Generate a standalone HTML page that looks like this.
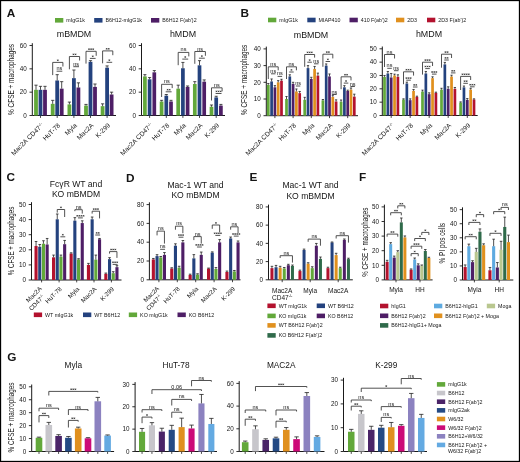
<!DOCTYPE html>
<html><head><meta charset="utf-8"><style>
html,body{margin:0;padding:0;background:#fff;width:520px;height:462px;overflow:hidden}
svg text{font-family:"Liberation Sans", sans-serif}
svg{will-change:transform}
</style></head><body>
<svg width="520" height="462" viewBox="0 0 520 462" font-family='"Liberation Sans", sans-serif' style="display:block">
<rect x="0" y="0" width="520" height="462" fill="#fff"/>
<text x="6.8" y="16.6" font-size="11.8" text-anchor="start" font-weight="bold" fill="#151515" >A</text>
<text x="240.6" y="16.6" font-size="11.8" text-anchor="start" font-weight="bold" fill="#151515" >B</text>
<text x="6.6" y="181" font-size="11.8" text-anchor="start" font-weight="bold" fill="#151515" >C</text>
<text x="126" y="181.5" font-size="11.8" text-anchor="start" font-weight="bold" fill="#151515" >D</text>
<text x="249.5" y="181.3" font-size="11.8" text-anchor="start" font-weight="bold" fill="#151515" >E</text>
<text x="359" y="181" font-size="11.8" text-anchor="start" font-weight="bold" fill="#151515" >F</text>
<text x="7.2" y="360.5" font-size="11.8" text-anchor="start" font-weight="bold" fill="#151515" >G</text>
<rect x="55" y="18" width="8.3" height="4.6" fill="#62a83a"/>
<text x="66.3" y="22.21" font-size="5.3" text-anchor="start" font-weight="normal" fill="#151515" >mIgG1k</text>
<rect x="94.2" y="18" width="8.3" height="4.6" fill="#24427e"/>
<text x="105.5" y="22.21" font-size="5.3" text-anchor="start" font-weight="normal" fill="#151515" >B6H12-mIgG1k</text>
<rect x="151" y="18" width="8.3" height="4.6" fill="#4e1e66"/>
<text x="162.3" y="22.21" font-size="5.3" text-anchor="start" font-weight="normal" fill="#151515" >B6H12 F(ab')2</text>
<text x="74" y="37" font-size="8.9" text-anchor="middle" font-weight="normal" fill="#151515" >mBMDM</text>
<text x="183" y="37" font-size="8.9" text-anchor="middle" font-weight="normal" fill="#151515" >hMDM</text>
<text transform="translate(14.2 79.4) rotate(-90)" font-size="8.2" text-anchor="middle" fill="#151515" textLength="71" lengthAdjust="spacingAndGlyphs">% CFSE + macrophages</text>
<path d="M32.3 43.2V115.5H116" fill="none" stroke="#1a1a1a" stroke-width="1"/>
<path d="M29.5 115.5H32.3" stroke="#1a1a1a" stroke-width="0.9"/>
<text x="26.8" y="117.77" font-size="6.3" text-anchor="end" font-weight="normal" fill="#151515" >0</text>
<path d="M29.5 92.17H32.3" stroke="#1a1a1a" stroke-width="0.9"/>
<text x="26.8" y="94.43" font-size="6.3" text-anchor="end" font-weight="normal" fill="#151515" >20</text>
<path d="M29.5 68.83H32.3" stroke="#1a1a1a" stroke-width="0.9"/>
<text x="26.8" y="71.1" font-size="6.3" text-anchor="end" font-weight="normal" fill="#151515" >40</text>
<path d="M29.5 45.5H32.3" stroke="#1a1a1a" stroke-width="0.9"/>
<text x="26.8" y="47.77" font-size="6.3" text-anchor="end" font-weight="normal" fill="#151515" >60</text>
<path d="M40.5 115.5V117.9" stroke="#1a1a1a" stroke-width="0.8"/>
<path d="M57.2 115.5V117.9" stroke="#1a1a1a" stroke-width="0.8"/>
<path d="M73.9 115.5V117.9" stroke="#1a1a1a" stroke-width="0.8"/>
<path d="M90.5 115.5V117.9" stroke="#1a1a1a" stroke-width="0.8"/>
<path d="M107.1 115.5V117.9" stroke="#1a1a1a" stroke-width="0.8"/>
<rect x="34.1" y="89.83" width="3.8" height="25.67" fill="#62a83a"/>
<path d="M36 89.83V85.17M34.4 85.17H37.6" stroke="#222" stroke-width="0.8" fill="none"/>
<rect x="38.6" y="89.83" width="3.8" height="25.67" fill="#24427e"/>
<path d="M40.5 89.83V86.33M38.9 86.33H42.1" stroke="#222" stroke-width="0.8" fill="none"/>
<rect x="43.1" y="89.83" width="3.8" height="25.67" fill="#4e1e66"/>
<path d="M45 89.83V86.33M43.4 86.33H46.6" stroke="#222" stroke-width="0.8" fill="none"/>
<rect x="50.8" y="103.83" width="3.8" height="11.67" fill="#62a83a"/>
<path d="M52.7 103.83V100.33M51.1 100.33H54.3" stroke="#222" stroke-width="0.8" fill="none"/>
<rect x="55.3" y="80.5" width="3.8" height="35" fill="#24427e"/>
<path d="M57.2 80.5V74.67M55.6 74.67H58.8" stroke="#222" stroke-width="0.8" fill="none"/>
<rect x="59.8" y="88.67" width="3.8" height="26.83" fill="#4e1e66"/>
<path d="M61.7 88.67V81.67M60.1 81.67H63.3" stroke="#222" stroke-width="0.8" fill="none"/>
<rect x="67.5" y="104.42" width="3.8" height="11.08" fill="#62a83a"/>
<path d="M69.4 104.42V102.08M67.8 102.08H71" stroke="#222" stroke-width="0.8" fill="none"/>
<rect x="72" y="78.17" width="3.8" height="37.33" fill="#24427e"/>
<path d="M73.9 78.17V70M72.3 70H75.5" stroke="#222" stroke-width="0.8" fill="none"/>
<rect x="76.5" y="87.5" width="3.8" height="28" fill="#4e1e66"/>
<path d="M78.4 87.5V82.83M76.8 82.83H80" stroke="#222" stroke-width="0.8" fill="none"/>
<rect x="84.1" y="105.58" width="3.8" height="9.92" fill="#62a83a"/>
<path d="M86 105.58V104.42M84.4 104.42H87.6" stroke="#222" stroke-width="0.8" fill="none"/>
<rect x="88.6" y="61.83" width="3.8" height="53.67" fill="#24427e"/>
<path d="M90.5 61.83V60.67M88.9 60.67H92.1" stroke="#222" stroke-width="0.8" fill="none"/>
<rect x="93.1" y="86.92" width="3.8" height="28.58" fill="#4e1e66"/>
<path d="M95 86.92V84M93.4 84H96.6" stroke="#222" stroke-width="0.8" fill="none"/>
<rect x="100.7" y="106.17" width="3.8" height="9.33" fill="#62a83a"/>
<path d="M102.6 106.17V103.83M101 103.83H104.2" stroke="#222" stroke-width="0.8" fill="none"/>
<rect x="105.2" y="67.67" width="3.8" height="47.83" fill="#24427e"/>
<path d="M107.1 67.67V65.92M105.5 65.92H108.7" stroke="#222" stroke-width="0.8" fill="none"/>
<rect x="109.7" y="94.5" width="3.8" height="21" fill="#4e1e66"/>
<path d="M111.6 94.5V92.17M110 92.17H113.2" stroke="#222" stroke-width="0.8" fill="none"/>
<path d="M52.7 75.1V62.4H62.9V66.5" fill="none" stroke="#333" stroke-width="0.85"/>
<path d="M56.95 60.3H58.65M57.35 59.55L58.25 61.05M58.25 59.55L57.35 61.05" stroke="#2a2a2a" stroke-width="0.55" fill="none"/>
<path d="M56.6 71.2H62.3" fill="none" stroke="#333" stroke-width="0.85"/>
<text x="59.45" y="70.2" font-size="5.5" text-anchor="middle" fill="#151515">ns</text>
<path d="M69.4 69.3V56.5H79.6V60.5" fill="none" stroke="#333" stroke-width="0.85"/>
<path d="M72.6 54.4H74.3M73 53.65L73.9 55.15M73.9 53.65L73 55.15M74.7 54.4H76.4M75.1 53.65L76 55.15M76 53.65L75.1 55.15" stroke="#2a2a2a" stroke-width="0.55" fill="none"/>
<path d="M73.3 66.7H79" fill="none" stroke="#333" stroke-width="0.85"/>
<text x="76.15" y="65.7" font-size="5.5" text-anchor="middle" fill="#151515">ns</text>
<path d="M86 63.6V51.3H96.2V55.8" fill="none" stroke="#333" stroke-width="0.85"/>
<path d="M88.15 49.2H89.85M88.55 48.45L89.45 49.95M89.45 48.45L88.55 49.95M90.25 49.2H91.95M90.65 48.45L91.55 49.95M91.55 48.45L90.65 49.95M92.35 49.2H94.05M92.75 48.45L93.65 49.95M93.65 48.45L92.75 49.95" stroke="#2a2a2a" stroke-width="0.55" fill="none"/>
<path d="M89.9 58.4H95.6" fill="none" stroke="#333" stroke-width="0.85"/>
<path d="M91.9 56.3H93.6M92.3 55.55L93.2 57.05M93.2 55.55L92.3 57.05" stroke="#2a2a2a" stroke-width="0.55" fill="none"/>
<path d="M102.6 63.3V50.9H112.8V55.2" fill="none" stroke="#333" stroke-width="0.85"/>
<path d="M105.8 48.8H107.5M106.2 48.05L107.1 49.55M107.1 48.05L106.2 49.55M107.9 48.8H109.6M108.3 48.05L109.2 49.55M109.2 48.05L108.3 49.55" stroke="#2a2a2a" stroke-width="0.55" fill="none"/>
<path d="M106.5 62.3H112.2" fill="none" stroke="#333" stroke-width="0.85"/>
<path d="M108.5 60.2H110.2M108.9 59.45L109.8 60.95M109.8 59.45L108.9 60.95" stroke="#2a2a2a" stroke-width="0.55" fill="none"/>
<text transform="translate(44 125.8) rotate(-45)" font-size="6.6" text-anchor="end" fill="#151515">Mac2A CD47<tspan font-size="3.9599999999999995" dy="-2.4">-/-</tspan></text>
<text transform="translate(60.7 125.8) rotate(-45)" font-size="6.6" text-anchor="end" fill="#151515">HuT-78</text>
<text transform="translate(77.4 125.8) rotate(-45)" font-size="6.6" text-anchor="end" fill="#151515">Myla</text>
<text transform="translate(94 125.8) rotate(-45)" font-size="6.6" text-anchor="end" fill="#151515">Mac2A</text>
<text transform="translate(110.6 125.8) rotate(-45)" font-size="6.6" text-anchor="end" fill="#151515">K-299</text>
<path d="M141.5 43.2V115.5H225" fill="none" stroke="#1a1a1a" stroke-width="1"/>
<path d="M138.7 115.5H141.5" stroke="#1a1a1a" stroke-width="0.9"/>
<text x="136" y="117.77" font-size="6.3" text-anchor="end" font-weight="normal" fill="#151515" >0</text>
<path d="M138.7 92.17H141.5" stroke="#1a1a1a" stroke-width="0.9"/>
<text x="136" y="94.43" font-size="6.3" text-anchor="end" font-weight="normal" fill="#151515" >20</text>
<path d="M138.7 68.83H141.5" stroke="#1a1a1a" stroke-width="0.9"/>
<text x="136" y="71.1" font-size="6.3" text-anchor="end" font-weight="normal" fill="#151515" >40</text>
<path d="M138.7 45.5H141.5" stroke="#1a1a1a" stroke-width="0.9"/>
<text x="136" y="47.77" font-size="6.3" text-anchor="end" font-weight="normal" fill="#151515" >60</text>
<path d="M149.6 115.5V117.9" stroke="#1a1a1a" stroke-width="0.8"/>
<path d="M166.3 115.5V117.9" stroke="#1a1a1a" stroke-width="0.8"/>
<path d="M182.9 115.5V117.9" stroke="#1a1a1a" stroke-width="0.8"/>
<path d="M199.5 115.5V117.9" stroke="#1a1a1a" stroke-width="0.8"/>
<path d="M216.2 115.5V117.9" stroke="#1a1a1a" stroke-width="0.8"/>
<rect x="143.05" y="76.42" width="3.7" height="39.08" fill="#62a83a"/>
<path d="M144.9 76.42V74.67M143.35 74.67H146.45" stroke="#222" stroke-width="0.8" fill="none"/>
<rect x="147.75" y="79.33" width="3.7" height="36.17" fill="#24427e"/>
<path d="M149.6 79.33V77.58M148.05 77.58H151.15" stroke="#222" stroke-width="0.8" fill="none"/>
<rect x="152.45" y="72.33" width="3.7" height="43.17" fill="#4e1e66"/>
<path d="M154.3 72.33V70.58M152.75 70.58H155.85" stroke="#222" stroke-width="0.8" fill="none"/>
<rect x="159.75" y="101.5" width="3.7" height="14" fill="#62a83a"/>
<path d="M161.6 101.5V100.33M160.05 100.33H163.15" stroke="#222" stroke-width="0.8" fill="none"/>
<rect x="164.45" y="95.67" width="3.7" height="19.83" fill="#24427e"/>
<path d="M166.3 95.67V94.5M164.75 94.5H167.85" stroke="#222" stroke-width="0.8" fill="none"/>
<rect x="169.15" y="101.5" width="3.7" height="14" fill="#4e1e66"/>
<path d="M171 101.5V100.33M169.45 100.33H172.55" stroke="#222" stroke-width="0.8" fill="none"/>
<rect x="176.35" y="88.67" width="3.7" height="26.83" fill="#62a83a"/>
<path d="M178.2 88.67V85.17M176.65 85.17H179.75" stroke="#222" stroke-width="0.8" fill="none"/>
<rect x="181.05" y="68.25" width="3.7" height="47.25" fill="#24427e"/>
<path d="M182.9 68.25V62.42M181.35 62.42H184.45" stroke="#222" stroke-width="0.8" fill="none"/>
<rect x="185.75" y="86.92" width="3.7" height="28.58" fill="#4e1e66"/>
<path d="M187.6 86.92V85.98M186.05 85.98H189.15" stroke="#222" stroke-width="0.8" fill="none"/>
<rect x="192.95" y="84" width="3.7" height="31.5" fill="#62a83a"/>
<path d="M194.8 84V81.67M193.25 81.67H196.35" stroke="#222" stroke-width="0.8" fill="none"/>
<rect x="197.65" y="65.33" width="3.7" height="50.17" fill="#24427e"/>
<path d="M199.5 65.33V60.67M197.95 60.67H201.05" stroke="#222" stroke-width="0.8" fill="none"/>
<rect x="202.35" y="81.67" width="3.7" height="33.83" fill="#4e1e66"/>
<path d="M204.2 81.67V79.92M202.65 79.92H205.75" stroke="#222" stroke-width="0.8" fill="none"/>
<rect x="209.65" y="106.75" width="3.7" height="8.75" fill="#62a83a"/>
<path d="M211.5 106.75V105M209.95 105H213.05" stroke="#222" stroke-width="0.8" fill="none"/>
<rect x="214.35" y="97.42" width="3.7" height="18.08" fill="#24427e"/>
<path d="M216.2 97.42V96.25M214.65 96.25H217.75" stroke="#222" stroke-width="0.8" fill="none"/>
<rect x="219.05" y="105.58" width="3.7" height="9.92" fill="#4e1e66"/>
<path d="M220.9 105.58V104.42M219.35 104.42H222.45" stroke="#222" stroke-width="0.8" fill="none"/>
<path d="M161.6 97V84.3H172.2V88.1" fill="none" stroke="#333" stroke-width="0.85"/>
<text x="166.9" y="83.3" font-size="5.5" text-anchor="middle" fill="#151515">ns</text>
<path d="M165.7 91.8H171.6" fill="none" stroke="#333" stroke-width="0.85"/>
<path d="M166.75 89.7H168.45M167.15 88.95L168.05 90.45M168.05 88.95L167.15 90.45M168.85 89.7H170.55M169.25 88.95L170.15 90.45M170.15 88.95L169.25 90.45" stroke="#2a2a2a" stroke-width="0.55" fill="none"/>
<path d="M178.2 65.2V52.4H188.8V56.4" fill="none" stroke="#333" stroke-width="0.85"/>
<text x="183.5" y="51.4" font-size="5.5" text-anchor="middle" fill="#151515">ns</text>
<path d="M182.3 59.1H188.2" fill="none" stroke="#333" stroke-width="0.85"/>
<path d="M184.4 57H186.1M184.8 56.25L185.7 57.75M185.7 56.25L184.8 57.75" stroke="#2a2a2a" stroke-width="0.55" fill="none"/>
<path d="M194.8 63.8V51.5H205.4V55.8" fill="none" stroke="#333" stroke-width="0.85"/>
<text x="200.1" y="50.5" font-size="5.5" text-anchor="middle" fill="#151515">ns</text>
<path d="M198.9 58.2H204.8" fill="none" stroke="#333" stroke-width="0.85"/>
<path d="M201 56.1H202.7M201.4 55.35L202.3 56.85M202.3 55.35L201.4 56.85" stroke="#2a2a2a" stroke-width="0.55" fill="none"/>
<path d="M211.5 100.5V87.8H222.1V91.4" fill="none" stroke="#333" stroke-width="0.85"/>
<text x="216.8" y="86.8" font-size="5.5" text-anchor="middle" fill="#151515">ns</text>
<path d="M215.6 93.5H221.5" fill="none" stroke="#333" stroke-width="0.85"/>
<path d="M215.6 91.4H217.3M216 90.65L216.9 92.15M216.9 90.65L216 92.15M217.7 91.4H219.4M218.1 90.65L219 92.15M219 90.65L218.1 92.15M219.8 91.4H221.5M220.2 90.65L221.1 92.15M221.1 90.65L220.2 92.15" stroke="#2a2a2a" stroke-width="0.55" fill="none"/>
<text transform="translate(153.1 125.8) rotate(-45)" font-size="6.6" text-anchor="end" fill="#151515">Mac2A CD47<tspan font-size="3.9599999999999995" dy="-2.4">-/-</tspan></text>
<text transform="translate(169.8 125.8) rotate(-45)" font-size="6.6" text-anchor="end" fill="#151515">HuT-78</text>
<text transform="translate(186.4 125.8) rotate(-45)" font-size="6.6" text-anchor="end" fill="#151515">Myla</text>
<text transform="translate(203 125.8) rotate(-45)" font-size="6.6" text-anchor="end" fill="#151515">Mac2A</text>
<text transform="translate(219.7 125.8) rotate(-45)" font-size="6.6" text-anchor="end" fill="#151515">K-299</text>
<rect x="268" y="17.7" width="8.3" height="4.6" fill="#62a83a"/>
<text x="279.3" y="21.91" font-size="5.3" text-anchor="start" font-weight="normal" fill="#151515" >mIgG1k</text>
<rect x="307.3" y="17.7" width="8.3" height="4.6" fill="#24427e"/>
<text x="318.6" y="21.91" font-size="5.3" text-anchor="start" font-weight="normal" fill="#151515" >MIAP410</text>
<rect x="349.5" y="17.7" width="8.3" height="4.6" fill="#4e1e66"/>
<text x="360.8" y="21.91" font-size="5.3" text-anchor="start" font-weight="normal" fill="#151515" >410 F(ab')2</text>
<rect x="396" y="17.7" width="8.3" height="4.6" fill="#e0901e"/>
<text x="407.3" y="21.91" font-size="5.3" text-anchor="start" font-weight="normal" fill="#151515" >2D3</text>
<rect x="427" y="17.7" width="8.3" height="4.6" fill="#b3122e"/>
<text x="438.3" y="21.91" font-size="5.3" text-anchor="start" font-weight="normal" fill="#151515" >2D3 F(ab')2</text>
<text x="311" y="37.5" font-size="8.9" text-anchor="middle" font-weight="normal" fill="#151515" >mBMDM</text>
<text x="429" y="37.3" font-size="8.9" text-anchor="middle" font-weight="normal" fill="#151515" >hMDM</text>
<text transform="translate(247.3 79.8) rotate(-90)" font-size="8.2" text-anchor="middle" fill="#151515" textLength="70.2" lengthAdjust="spacingAndGlyphs">% CFSE + macrophages</text>
<path d="M266.3 46.6V115.7H358" fill="none" stroke="#1a1a1a" stroke-width="1"/>
<path d="M263.5 115.7H266.3" stroke="#1a1a1a" stroke-width="0.9"/>
<text x="260.8" y="117.97" font-size="6.3" text-anchor="end" font-weight="normal" fill="#151515" >0</text>
<path d="M263.5 99H266.3" stroke="#1a1a1a" stroke-width="0.9"/>
<text x="260.8" y="101.27" font-size="6.3" text-anchor="end" font-weight="normal" fill="#151515" >10</text>
<path d="M263.5 82.3H266.3" stroke="#1a1a1a" stroke-width="0.9"/>
<text x="260.8" y="84.57" font-size="6.3" text-anchor="end" font-weight="normal" fill="#151515" >20</text>
<path d="M263.5 65.6H266.3" stroke="#1a1a1a" stroke-width="0.9"/>
<text x="260.8" y="67.87" font-size="6.3" text-anchor="end" font-weight="normal" fill="#151515" >30</text>
<path d="M263.5 48.9H266.3" stroke="#1a1a1a" stroke-width="0.9"/>
<text x="260.8" y="51.17" font-size="6.3" text-anchor="end" font-weight="normal" fill="#151515" >40</text>
<path d="M274.9 115.7V118.1" stroke="#1a1a1a" stroke-width="0.8"/>
<path d="M293.1 115.7V118.1" stroke="#1a1a1a" stroke-width="0.8"/>
<path d="M311.3 115.7V118.1" stroke="#1a1a1a" stroke-width="0.8"/>
<path d="M329.5 115.7V118.1" stroke="#1a1a1a" stroke-width="0.8"/>
<path d="M347.7 115.7V118.1" stroke="#1a1a1a" stroke-width="0.8"/>
<rect x="266.95" y="84.81" width="2.7" height="30.89" fill="#62a83a"/>
<path d="M268.3 84.81V83.47M267.17 83.47H269.43" stroke="#222" stroke-width="0.8" fill="none"/>
<rect x="270.25" y="81.47" width="2.7" height="34.23" fill="#24427e"/>
<path d="M271.6 81.47V78.96M270.47 78.96H272.73" stroke="#222" stroke-width="0.8" fill="none"/>
<rect x="273.55" y="87.31" width="2.7" height="28.39" fill="#4e1e66"/>
<path d="M274.9 87.31V85.64M273.77 85.64H276.03" stroke="#222" stroke-width="0.8" fill="none"/>
<rect x="276.85" y="82.3" width="2.7" height="33.4" fill="#e0901e"/>
<path d="M278.2 82.3V80.63M277.07 80.63H279.33" stroke="#222" stroke-width="0.8" fill="none"/>
<rect x="280.15" y="80.63" width="2.7" height="35.07" fill="#b3122e"/>
<path d="M281.5 80.63V79.29M280.37 79.29H282.63" stroke="#222" stroke-width="0.8" fill="none"/>
<rect x="285.15" y="99" width="2.7" height="16.7" fill="#62a83a"/>
<path d="M286.5 99V96.5M285.37 96.5H287.63" stroke="#222" stroke-width="0.8" fill="none"/>
<rect x="288.45" y="76.46" width="2.7" height="39.24" fill="#24427e"/>
<path d="M289.8 76.46V74.78M288.67 74.78H290.93" stroke="#222" stroke-width="0.8" fill="none"/>
<rect x="291.75" y="83.97" width="2.7" height="31.73" fill="#4e1e66"/>
<path d="M293.1 83.97V82.3M291.97 82.3H294.23" stroke="#222" stroke-width="0.8" fill="none"/>
<rect x="295.05" y="91.48" width="2.7" height="24.21" fill="#e0901e"/>
<path d="M296.4 91.48V88.98M295.27 88.98H297.53" stroke="#222" stroke-width="0.8" fill="none"/>
<rect x="298.35" y="93.16" width="2.7" height="22.54" fill="#b3122e"/>
<path d="M299.7 93.16V91.48M298.57 91.48H300.83" stroke="#222" stroke-width="0.8" fill="none"/>
<rect x="303.35" y="99.84" width="2.7" height="15.86" fill="#62a83a"/>
<path d="M304.7 99.84V97.33M303.57 97.33H305.83" stroke="#222" stroke-width="0.8" fill="none"/>
<rect x="306.65" y="68.11" width="2.7" height="47.59" fill="#24427e"/>
<path d="M308 68.11V65.6M306.87 65.6H309.13" stroke="#222" stroke-width="0.8" fill="none"/>
<rect x="309.95" y="78.96" width="2.7" height="36.74" fill="#4e1e66"/>
<path d="M311.3 78.96V77.29M310.17 77.29H312.43" stroke="#222" stroke-width="0.8" fill="none"/>
<rect x="313.25" y="68.94" width="2.7" height="46.76" fill="#e0901e"/>
<path d="M314.6 68.94V66.44M313.47 66.44H315.73" stroke="#222" stroke-width="0.8" fill="none"/>
<rect x="316.55" y="75.62" width="2.7" height="40.08" fill="#b3122e"/>
<path d="M317.9 75.62V73.12M316.77 73.12H319.03" stroke="#222" stroke-width="0.8" fill="none"/>
<rect x="321.55" y="100.34" width="2.7" height="15.36" fill="#62a83a"/>
<path d="M322.9 100.34V99.5M321.77 99.5H324.03" stroke="#222" stroke-width="0.8" fill="none"/>
<rect x="324.85" y="65.6" width="2.7" height="50.1" fill="#24427e"/>
<path d="M326.2 65.6V63.93M325.07 63.93H327.33" stroke="#222" stroke-width="0.8" fill="none"/>
<rect x="328.15" y="76.46" width="2.7" height="39.24" fill="#4e1e66"/>
<path d="M329.5 76.46V73.95M328.37 73.95H330.63" stroke="#222" stroke-width="0.8" fill="none"/>
<rect x="331.45" y="96.83" width="2.7" height="18.87" fill="#e0901e"/>
<path d="M332.8 96.83V95.16M331.67 95.16H333.93" stroke="#222" stroke-width="0.8" fill="none"/>
<rect x="334.75" y="101.5" width="2.7" height="14.2" fill="#b3122e"/>
<path d="M336.1 101.5V99.84M334.97 99.84H337.23" stroke="#222" stroke-width="0.8" fill="none"/>
<rect x="339.75" y="101.67" width="2.7" height="14.03" fill="#62a83a"/>
<path d="M341.1 101.67V100M339.97 100H342.23" stroke="#222" stroke-width="0.8" fill="none"/>
<rect x="343.05" y="87.31" width="2.7" height="28.39" fill="#24427e"/>
<path d="M344.4 87.31V85.64M343.27 85.64H345.53" stroke="#222" stroke-width="0.8" fill="none"/>
<rect x="346.35" y="90.98" width="2.7" height="24.72" fill="#4e1e66"/>
<path d="M347.7 90.98V90.15M346.57 90.15H348.83" stroke="#222" stroke-width="0.8" fill="none"/>
<rect x="349.65" y="89.65" width="2.7" height="26.05" fill="#e0901e"/>
<path d="M351 89.65V87.98M349.87 87.98H352.13" stroke="#222" stroke-width="0.8" fill="none"/>
<rect x="352.95" y="96.66" width="2.7" height="19.04" fill="#b3122e"/>
<path d="M354.3 96.66V94.16M353.17 94.16H355.43" stroke="#222" stroke-width="0.8" fill="none"/>
<path d="M268.3 79V66.8H278.2V70.3" fill="none" stroke="#333" stroke-width="0.85"/>
<text x="273.25" y="65.8" font-size="5.5" text-anchor="middle" fill="#151515">ns</text>
<path d="M271 73.8H275.5" fill="none" stroke="#333" stroke-width="0.85"/>
<text x="273.25" y="72.8" font-size="5.5" text-anchor="middle" fill="#151515">ns</text>
<path d="M277.6 76.4H282.1" fill="none" stroke="#333" stroke-width="0.85"/>
<text x="279.85" y="75.4" font-size="5.5" text-anchor="middle" fill="#151515">ns</text>
<path d="M286.5 79V66.8H296.4V70.3" fill="none" stroke="#333" stroke-width="0.85"/>
<text x="291.45" y="65.8" font-size="5.5" text-anchor="middle" fill="#151515">ns</text>
<path d="M289.2 72H293.7" fill="none" stroke="#333" stroke-width="0.85"/>
<path d="M290.6 69.9H292.3M291 69.15L291.9 70.65M291.9 69.15L291 70.65" stroke="#2a2a2a" stroke-width="0.55" fill="none"/>
<path d="M295.8 86H300.3" fill="none" stroke="#333" stroke-width="0.85"/>
<text x="298.05" y="85" font-size="5.5" text-anchor="middle" fill="#151515">ns</text>
<path d="M304.7 66.8V54.5H314.6V57.6" fill="none" stroke="#333" stroke-width="0.85"/>
<path d="M306.7 52.4H308.4M307.1 51.65L308 53.15M308 51.65L307.1 53.15M308.8 52.4H310.5M309.2 51.65L310.1 53.15M310.1 51.65L309.2 53.15M310.9 52.4H312.6M311.3 51.65L312.2 53.15M312.2 51.65L311.3 53.15" stroke="#2a2a2a" stroke-width="0.55" fill="none"/>
<path d="M307.4 62.2H311.9" fill="none" stroke="#333" stroke-width="0.85"/>
<path d="M308.8 60.1H310.5M309.2 59.35L310.1 60.85M310.1 59.35L309.2 60.85" stroke="#2a2a2a" stroke-width="0.55" fill="none"/>
<path d="M314 63.8H318.5" fill="none" stroke="#333" stroke-width="0.85"/>
<text x="316.25" y="62.8" font-size="5.5" text-anchor="middle" fill="#151515">ns</text>
<path d="M322.9 66.8V54.2H332.8V58.4" fill="none" stroke="#333" stroke-width="0.85"/>
<path d="M325.95 52.1H327.65M326.35 51.35L327.25 52.85M327.25 51.35L326.35 52.85M328.05 52.1H329.75M328.45 51.35L329.35 52.85M329.35 51.35L328.45 52.85" stroke="#2a2a2a" stroke-width="0.55" fill="none"/>
<path d="M325.6 61.5H330.1" fill="none" stroke="#333" stroke-width="0.85"/>
<path d="M327 59.4H328.7M327.4 58.65L328.3 60.15M328.3 58.65L327.4 60.15" stroke="#2a2a2a" stroke-width="0.55" fill="none"/>
<path d="M332.2 94.5H336.7" fill="none" stroke="#333" stroke-width="0.85"/>
<text x="334.45" y="93.5" font-size="5.5" text-anchor="middle" fill="#151515">ns</text>
<path d="M341.1 89.2V76.8H351V80.4" fill="none" stroke="#333" stroke-width="0.85"/>
<path d="M344.15 74.7H345.85M344.55 73.95L345.45 75.45M345.45 73.95L344.55 75.45M346.25 74.7H347.95M346.65 73.95L347.55 75.45M347.55 73.95L346.65 75.45" stroke="#2a2a2a" stroke-width="0.55" fill="none"/>
<path d="M343.8 83.1H348.3" fill="none" stroke="#333" stroke-width="0.85"/>
<path d="M345.2 81H346.9M345.6 80.25L346.5 81.75M346.5 80.25L345.6 81.75" stroke="#2a2a2a" stroke-width="0.55" fill="none"/>
<path d="M350.4 86.5H354.9" fill="none" stroke="#333" stroke-width="0.85"/>
<text x="352.65" y="85.5" font-size="5.5" text-anchor="middle" fill="#151515">ns</text>
<text transform="translate(278.4 126) rotate(-45)" font-size="6.6" text-anchor="end" fill="#151515">Mac2A CD47<tspan font-size="3.9599999999999995" dy="-2.4">-/-</tspan></text>
<text transform="translate(296.6 126) rotate(-45)" font-size="6.6" text-anchor="end" fill="#151515">HuT-78</text>
<text transform="translate(314.8 126) rotate(-45)" font-size="6.6" text-anchor="end" fill="#151515">Myla</text>
<text transform="translate(333 126) rotate(-45)" font-size="6.6" text-anchor="end" fill="#151515">Mac2A</text>
<text transform="translate(351.2 126) rotate(-45)" font-size="6.6" text-anchor="end" fill="#151515">K-299</text>
<path d="M382.3 46.5V115.5H477.7" fill="none" stroke="#1a1a1a" stroke-width="1"/>
<path d="M379.5 115.5H382.3" stroke="#1a1a1a" stroke-width="0.9"/>
<text x="376.8" y="117.77" font-size="6.3" text-anchor="end" font-weight="normal" fill="#151515" >0</text>
<path d="M379.5 102.16H382.3" stroke="#1a1a1a" stroke-width="0.9"/>
<text x="376.8" y="104.43" font-size="6.3" text-anchor="end" font-weight="normal" fill="#151515" >10</text>
<path d="M379.5 88.82H382.3" stroke="#1a1a1a" stroke-width="0.9"/>
<text x="376.8" y="91.09" font-size="6.3" text-anchor="end" font-weight="normal" fill="#151515" >20</text>
<path d="M379.5 75.48H382.3" stroke="#1a1a1a" stroke-width="0.9"/>
<text x="376.8" y="77.75" font-size="6.3" text-anchor="end" font-weight="normal" fill="#151515" >30</text>
<path d="M379.5 62.14H382.3" stroke="#1a1a1a" stroke-width="0.9"/>
<text x="376.8" y="64.41" font-size="6.3" text-anchor="end" font-weight="normal" fill="#151515" >40</text>
<path d="M379.5 48.8H382.3" stroke="#1a1a1a" stroke-width="0.9"/>
<text x="376.8" y="51.07" font-size="6.3" text-anchor="end" font-weight="normal" fill="#151515" >50</text>
<path d="M391.2 115.5V117.9" stroke="#1a1a1a" stroke-width="0.8"/>
<path d="M410.2 115.5V117.9" stroke="#1a1a1a" stroke-width="0.8"/>
<path d="M429.2 115.5V117.9" stroke="#1a1a1a" stroke-width="0.8"/>
<path d="M448.2 115.5V117.9" stroke="#1a1a1a" stroke-width="0.8"/>
<path d="M467.3 115.5V117.9" stroke="#1a1a1a" stroke-width="0.8"/>
<rect x="383.15" y="76.81" width="2.7" height="38.69" fill="#62a83a"/>
<path d="M384.5 76.81V75.48M383.37 75.48H385.63" stroke="#222" stroke-width="0.8" fill="none"/>
<rect x="386.5" y="73.48" width="2.7" height="42.02" fill="#24427e"/>
<path d="M387.85 73.48V71.48M386.72 71.48H388.98" stroke="#222" stroke-width="0.8" fill="none"/>
<rect x="389.85" y="77.48" width="2.7" height="38.02" fill="#4e1e66"/>
<path d="M391.2 77.48V73.48M390.07 73.48H392.33" stroke="#222" stroke-width="0.8" fill="none"/>
<rect x="393.2" y="75.48" width="2.7" height="40.02" fill="#e0901e"/>
<path d="M394.55 75.48V74.15M393.42 74.15H395.68" stroke="#222" stroke-width="0.8" fill="none"/>
<rect x="396.55" y="76.81" width="2.7" height="38.69" fill="#b3122e"/>
<path d="M397.9 76.81V74.81M396.77 74.81H399.03" stroke="#222" stroke-width="0.8" fill="none"/>
<rect x="402.15" y="99.49" width="2.7" height="16.01" fill="#62a83a"/>
<path d="M403.5 99.49V98.83M402.37 98.83H404.63" stroke="#222" stroke-width="0.8" fill="none"/>
<rect x="405.5" y="83.48" width="2.7" height="32.02" fill="#24427e"/>
<path d="M406.85 83.48V82.15M405.72 82.15H407.98" stroke="#222" stroke-width="0.8" fill="none"/>
<rect x="408.85" y="100.16" width="2.7" height="15.34" fill="#4e1e66"/>
<path d="M410.2 100.16V98.83M409.07 98.83H411.33" stroke="#222" stroke-width="0.8" fill="none"/>
<rect x="412.2" y="90.82" width="2.7" height="24.68" fill="#e0901e"/>
<path d="M413.55 90.82V89.49M412.42 89.49H414.68" stroke="#222" stroke-width="0.8" fill="none"/>
<rect x="415.55" y="96.82" width="2.7" height="18.68" fill="#b3122e"/>
<path d="M416.9 96.82V96.16M415.77 96.16H418.03" stroke="#222" stroke-width="0.8" fill="none"/>
<rect x="421.15" y="91.49" width="2.7" height="24.01" fill="#62a83a"/>
<path d="M422.5 91.49V90.15M421.37 90.15H423.63" stroke="#222" stroke-width="0.8" fill="none"/>
<rect x="424.5" y="73.48" width="2.7" height="42.02" fill="#24427e"/>
<path d="M425.85 73.48V71.48M424.72 71.48H426.98" stroke="#222" stroke-width="0.8" fill="none"/>
<rect x="427.85" y="94.16" width="2.7" height="21.34" fill="#4e1e66"/>
<path d="M429.2 94.16V92.82M428.07 92.82H430.33" stroke="#222" stroke-width="0.8" fill="none"/>
<rect x="431.2" y="78.15" width="2.7" height="37.35" fill="#e0901e"/>
<path d="M432.55 78.15V76.81M431.42 76.81H433.68" stroke="#222" stroke-width="0.8" fill="none"/>
<rect x="434.55" y="92.82" width="2.7" height="22.68" fill="#b3122e"/>
<path d="M435.9 92.82V92.16M434.77 92.16H437.03" stroke="#222" stroke-width="0.8" fill="none"/>
<rect x="440.15" y="89.62" width="2.7" height="25.88" fill="#62a83a"/>
<path d="M441.5 89.62V88.29M440.37 88.29H442.63" stroke="#222" stroke-width="0.8" fill="none"/>
<rect x="443.5" y="64.41" width="2.7" height="51.09" fill="#24427e"/>
<path d="M444.85 64.41V62.41M443.72 62.41H445.98" stroke="#222" stroke-width="0.8" fill="none"/>
<rect x="446.85" y="88.82" width="2.7" height="26.68" fill="#4e1e66"/>
<path d="M448.2 88.82V86.82M447.07 86.82H449.33" stroke="#222" stroke-width="0.8" fill="none"/>
<rect x="450.2" y="76.55" width="2.7" height="38.95" fill="#e0901e"/>
<path d="M451.55 76.55V75.21M450.42 75.21H452.68" stroke="#222" stroke-width="0.8" fill="none"/>
<rect x="453.55" y="88.82" width="2.7" height="26.68" fill="#b3122e"/>
<path d="M454.9 88.82V87.49M453.77 87.49H456.03" stroke="#222" stroke-width="0.8" fill="none"/>
<rect x="459.25" y="102.56" width="2.7" height="12.94" fill="#62a83a"/>
<path d="M460.6 102.56V101.89M459.47 101.89H461.73" stroke="#222" stroke-width="0.8" fill="none"/>
<rect x="462.6" y="87.35" width="2.7" height="28.15" fill="#24427e"/>
<path d="M463.95 87.35V86.02M462.82 86.02H465.08" stroke="#222" stroke-width="0.8" fill="none"/>
<rect x="465.95" y="99.89" width="2.7" height="15.61" fill="#4e1e66"/>
<path d="M467.3 99.89V98.56M466.17 98.56H468.43" stroke="#222" stroke-width="0.8" fill="none"/>
<rect x="469.3" y="89.62" width="2.7" height="25.88" fill="#e0901e"/>
<path d="M470.65 89.62V88.29M469.52 88.29H471.78" stroke="#222" stroke-width="0.8" fill="none"/>
<rect x="472.65" y="99.49" width="2.7" height="16.01" fill="#b3122e"/>
<path d="M474 99.49V98.83M472.87 98.83H475.13" stroke="#222" stroke-width="0.8" fill="none"/>
<path d="M384.5 67V54.5H394.55V58.5" fill="none" stroke="#333" stroke-width="0.85"/>
<text x="389.52" y="53.5" font-size="5.5" text-anchor="middle" fill="#151515">ns</text>
<path d="M387.25 68.3H391.8" fill="none" stroke="#333" stroke-width="0.85"/>
<text x="389.52" y="67.3" font-size="5.5" text-anchor="middle" fill="#151515">ns</text>
<path d="M393.95 70.7H398.5" fill="none" stroke="#333" stroke-width="0.85"/>
<text x="396.23" y="69.7" font-size="5.5" text-anchor="middle" fill="#151515">ns</text>
<path d="M403.5 84.2V71.8H413.55V75.6" fill="none" stroke="#333" stroke-width="0.85"/>
<path d="M405.57 69.7H407.27M405.97 68.95L406.87 70.45M406.87 68.95L405.97 70.45M407.67 69.7H409.38M408.07 68.95L408.97 70.45M408.97 68.95L408.07 70.45M409.77 69.7H411.48M410.18 68.95L411.07 70.45M411.07 68.95L410.18 70.45" stroke="#2a2a2a" stroke-width="0.55" fill="none"/>
<path d="M406.25 80.2H410.8" fill="none" stroke="#333" stroke-width="0.85"/>
<path d="M405.57 78.1H407.27M405.97 77.35L406.87 78.85M406.87 77.35L405.97 78.85M407.67 78.1H409.38M408.07 77.35L408.97 78.85M408.97 77.35L408.07 78.85M409.77 78.1H411.48M410.18 77.35L411.07 78.85M411.07 77.35L410.18 78.85" stroke="#2a2a2a" stroke-width="0.55" fill="none"/>
<path d="M412.95 87H417.5" fill="none" stroke="#333" stroke-width="0.85"/>
<path d="M413.32 84.9H415.03M413.73 84.15L414.62 85.65M414.62 84.15L413.73 85.65M415.43 84.9H417.13M415.83 84.15L416.73 85.65M416.73 84.15L415.83 85.65" stroke="#2a2a2a" stroke-width="0.55" fill="none"/>
<path d="M422.5 74.6V62.2H432.55V66" fill="none" stroke="#333" stroke-width="0.85"/>
<path d="M424.57 60.1H426.27M424.97 59.35L425.87 60.85M425.87 59.35L424.97 60.85M426.67 60.1H428.38M427.07 59.35L427.97 60.85M427.97 59.35L427.07 60.85M428.77 60.1H430.48M429.18 59.35L430.07 60.85M430.07 59.35L429.18 60.85" stroke="#2a2a2a" stroke-width="0.55" fill="none"/>
<path d="M425.25 68.6H429.8" fill="none" stroke="#333" stroke-width="0.85"/>
<path d="M424.57 66.5H426.27M424.97 65.75L425.87 67.25M425.87 65.75L424.97 67.25M426.67 66.5H428.38M427.07 65.75L427.97 67.25M427.97 65.75L427.07 67.25M428.77 66.5H430.48M429.18 65.75L430.07 67.25M430.07 65.75L429.18 67.25" stroke="#2a2a2a" stroke-width="0.55" fill="none"/>
<path d="M431.95 74.1H436.5" fill="none" stroke="#333" stroke-width="0.85"/>
<path d="M431.27 72H432.98M431.68 71.25L432.57 72.75M432.57 71.25L431.68 72.75M433.38 72H435.08M433.78 71.25L434.68 72.75M434.68 71.25L433.78 72.75M435.48 72H437.18M435.88 71.25L436.78 72.75M436.78 71.25L435.88 72.75" stroke="#2a2a2a" stroke-width="0.55" fill="none"/>
<path d="M441.5 67.7V54.2H451.55V58" fill="none" stroke="#333" stroke-width="0.85"/>
<path d="M444.62 52.1H446.32M445.02 51.35L445.92 52.85M445.92 51.35L445.02 52.85M446.72 52.1H448.43M447.12 51.35L448.02 52.85M448.02 51.35L447.12 52.85" stroke="#2a2a2a" stroke-width="0.55" fill="none"/>
<path d="M444.25 60H448.8" fill="none" stroke="#333" stroke-width="0.85"/>
<path d="M444.62 57.9H446.32M445.02 57.15L445.92 58.65M445.92 57.15L445.02 58.65M446.72 57.9H448.43M447.12 57.15L448.02 58.65M448.02 57.15L447.12 58.65" stroke="#2a2a2a" stroke-width="0.55" fill="none"/>
<path d="M450.95 72.9H455.5" fill="none" stroke="#333" stroke-width="0.85"/>
<path d="M451.32 70.8H453.03M451.73 70.05L452.62 71.55M452.62 70.05L451.73 71.55M453.43 70.8H455.13M453.83 70.05L454.73 71.55M454.73 70.05L453.83 71.55" stroke="#2a2a2a" stroke-width="0.55" fill="none"/>
<path d="M460.6 90V76.4H470.65V80" fill="none" stroke="#333" stroke-width="0.85"/>
<path d="M461.62 74.3H463.33M462.03 73.55L462.93 75.05M462.93 73.55L462.03 75.05M463.72 74.3H465.43M464.12 73.55L465.02 75.05M465.02 73.55L464.12 75.05M465.82 74.3H467.53M466.23 73.55L467.12 75.05M467.12 73.55L466.23 75.05M467.92 74.3H469.62M468.32 73.55L469.22 75.05M469.22 73.55L468.32 75.05" stroke="#2a2a2a" stroke-width="0.55" fill="none"/>
<path d="M463.35 83.3H467.9" fill="none" stroke="#333" stroke-width="0.85"/>
<path d="M463.72 81.2H465.43M464.12 80.45L465.02 81.95M465.02 80.45L464.12 81.95M465.82 81.2H467.53M466.23 80.45L467.12 81.95M467.12 80.45L466.23 81.95" stroke="#2a2a2a" stroke-width="0.55" fill="none"/>
<path d="M470.05 86.8H474.6" fill="none" stroke="#333" stroke-width="0.85"/>
<path d="M469.38 84.7H471.08M469.78 83.95L470.68 85.45M470.68 83.95L469.78 85.45M471.48 84.7H473.18M471.88 83.95L472.78 85.45M472.78 83.95L471.88 85.45M473.58 84.7H475.28M473.98 83.95L474.88 85.45M474.88 83.95L473.98 85.45" stroke="#2a2a2a" stroke-width="0.55" fill="none"/>
<text transform="translate(394.7 125.8) rotate(-45)" font-size="6.6" text-anchor="end" fill="#151515">Mac2A CD47<tspan font-size="3.9599999999999995" dy="-2.4">-/-</tspan></text>
<text transform="translate(413.7 125.8) rotate(-45)" font-size="6.6" text-anchor="end" fill="#151515">HuT-78</text>
<text transform="translate(432.7 125.8) rotate(-45)" font-size="6.6" text-anchor="end" fill="#151515">Myla</text>
<text transform="translate(451.7 125.8) rotate(-45)" font-size="6.6" text-anchor="end" fill="#151515">Mac2A</text>
<text transform="translate(470.8 125.8) rotate(-45)" font-size="6.6" text-anchor="end" fill="#151515">K-299</text>
<text x="76" y="187.2" font-size="8.6" text-anchor="middle" font-weight="normal" fill="#151515" >Fc&#947;R WT and</text>
<text x="76" y="197.2" font-size="8.6" text-anchor="middle" font-weight="normal" fill="#151515" >KO mBMDM</text>
<text transform="translate(14 241) rotate(-90)" font-size="8.2" text-anchor="middle" fill="#151515" textLength="68.6" lengthAdjust="spacingAndGlyphs">% CFSE + macrophages</text>
<path d="M31.5 202.2V280H121.5" fill="none" stroke="#1a1a1a" stroke-width="1"/>
<path d="M28.7 280H31.5" stroke="#1a1a1a" stroke-width="0.9"/>
<text x="26" y="282.27" font-size="6.3" text-anchor="end" font-weight="normal" fill="#151515" >0</text>
<path d="M28.7 264.9H31.5" stroke="#1a1a1a" stroke-width="0.9"/>
<text x="26" y="267.17" font-size="6.3" text-anchor="end" font-weight="normal" fill="#151515" >10</text>
<path d="M28.7 249.8H31.5" stroke="#1a1a1a" stroke-width="0.9"/>
<text x="26" y="252.07" font-size="6.3" text-anchor="end" font-weight="normal" fill="#151515" >20</text>
<path d="M28.7 234.7H31.5" stroke="#1a1a1a" stroke-width="0.9"/>
<text x="26" y="236.97" font-size="6.3" text-anchor="end" font-weight="normal" fill="#151515" >30</text>
<path d="M28.7 219.6H31.5" stroke="#1a1a1a" stroke-width="0.9"/>
<text x="26" y="221.87" font-size="6.3" text-anchor="end" font-weight="normal" fill="#151515" >40</text>
<path d="M28.7 204.5H31.5" stroke="#1a1a1a" stroke-width="0.9"/>
<text x="26" y="206.77" font-size="6.3" text-anchor="end" font-weight="normal" fill="#151515" >50</text>
<path d="M41.6 280V282.4" stroke="#1a1a1a" stroke-width="0.8"/>
<path d="M59.1 280V282.4" stroke="#1a1a1a" stroke-width="0.8"/>
<path d="M76.7 280V282.4" stroke="#1a1a1a" stroke-width="0.8"/>
<path d="M94 280V282.4" stroke="#1a1a1a" stroke-width="0.8"/>
<path d="M111.4 280V282.4" stroke="#1a1a1a" stroke-width="0.8"/>
<rect x="34.5" y="246.03" width="3.1" height="33.98" fill="#b3122e"/>
<path d="M36.05 246.03V241.5M34.75 241.5H37.35" stroke="#222" stroke-width="0.8" fill="none"/>
<rect x="38.2" y="246.78" width="3.1" height="33.22" fill="#24427e"/>
<path d="M39.75 246.78V244.51M38.45 244.51H41.05" stroke="#222" stroke-width="0.8" fill="none"/>
<rect x="41.9" y="243.76" width="3.1" height="36.24" fill="#62a83a"/>
<path d="M43.45 243.76V240.74M42.15 240.74H44.75" stroke="#222" stroke-width="0.8" fill="none"/>
<rect x="45.6" y="244.51" width="3.1" height="35.48" fill="#4e1e66"/>
<path d="M47.15 244.51V238.47M45.85 238.47H48.45" stroke="#222" stroke-width="0.8" fill="none"/>
<rect x="52" y="257.35" width="3.1" height="22.65" fill="#b3122e"/>
<path d="M53.55 257.35V255.09M52.25 255.09H54.85" stroke="#222" stroke-width="0.8" fill="none"/>
<rect x="55.7" y="219.3" width="3.1" height="60.7" fill="#24427e"/>
<path d="M57.25 219.3V214.01M55.95 214.01H58.55" stroke="#222" stroke-width="0.8" fill="none"/>
<rect x="59.4" y="256.6" width="3.1" height="23.41" fill="#62a83a"/>
<path d="M60.95 256.6V255.09M59.65 255.09H62.25" stroke="#222" stroke-width="0.8" fill="none"/>
<rect x="63.1" y="244.21" width="3.1" height="35.79" fill="#4e1e66"/>
<path d="M64.65 244.21V240.44M63.35 240.44H65.95" stroke="#222" stroke-width="0.8" fill="none"/>
<rect x="69.6" y="253.57" width="3.1" height="26.43" fill="#b3122e"/>
<path d="M71.15 253.57V252.82M69.85 252.82H72.45" stroke="#222" stroke-width="0.8" fill="none"/>
<rect x="73.3" y="220.66" width="3.1" height="59.34" fill="#24427e"/>
<path d="M74.85 220.66V217.64M73.55 217.64H76.15" stroke="#222" stroke-width="0.8" fill="none"/>
<rect x="77" y="259.46" width="3.1" height="20.54" fill="#62a83a"/>
<path d="M78.55 259.46V258.71M77.25 258.71H79.85" stroke="#222" stroke-width="0.8" fill="none"/>
<rect x="80.7" y="223.07" width="3.1" height="56.93" fill="#4e1e66"/>
<path d="M82.25 223.07V220.81M80.95 220.81H83.55" stroke="#222" stroke-width="0.8" fill="none"/>
<rect x="86.9" y="264.9" width="3.1" height="15.1" fill="#b3122e"/>
<path d="M88.45 264.9V263.39M87.15 263.39H89.75" stroke="#222" stroke-width="0.8" fill="none"/>
<rect x="90.6" y="219.3" width="3.1" height="60.7" fill="#24427e"/>
<path d="M92.15 219.3V217.03M90.85 217.03H93.45" stroke="#222" stroke-width="0.8" fill="none"/>
<rect x="94.3" y="259.62" width="3.1" height="20.39" fill="#62a83a"/>
<path d="M95.85 259.62V255.09M94.55 255.09H97.15" stroke="#222" stroke-width="0.8" fill="none"/>
<rect x="98" y="239.23" width="3.1" height="40.77" fill="#4e1e66"/>
<path d="M99.55 239.23V238.47M98.25 238.47H100.85" stroke="#222" stroke-width="0.8" fill="none"/>
<rect x="104.3" y="273.81" width="3.1" height="6.19" fill="#b3122e"/>
<path d="M105.85 273.81V273.05M104.55 273.05H107.15" stroke="#222" stroke-width="0.8" fill="none"/>
<rect x="108" y="259.16" width="3.1" height="20.84" fill="#24427e"/>
<path d="M109.55 259.16V257.65M108.25 257.65H110.85" stroke="#222" stroke-width="0.8" fill="none"/>
<rect x="111.7" y="273.2" width="3.1" height="6.79" fill="#62a83a"/>
<path d="M113.25 273.2V271.69M111.95 271.69H114.55" stroke="#222" stroke-width="0.8" fill="none"/>
<rect x="115.4" y="267.17" width="3.1" height="12.84" fill="#4e1e66"/>
<path d="M116.95 267.17V265.65M115.65 265.65H118.25" stroke="#222" stroke-width="0.8" fill="none"/>
<path d="M57.25 212.6V209.5H64.65V217" fill="none" stroke="#333" stroke-width="0.85"/>
<path d="M60.1 207.4H61.8M60.5 206.65L61.4 208.15M61.4 206.65L60.5 208.15" stroke="#2a2a2a" stroke-width="0.55" fill="none"/>
<path d="M60.35 236.8H65.25" fill="none" stroke="#333" stroke-width="0.85"/>
<path d="M61.95 234.7H63.65M62.35 233.95L63.25 235.45M63.25 233.95L62.35 235.45" stroke="#2a2a2a" stroke-width="0.55" fill="none"/>
<path d="M74.85 211.2V209.7H82.25V213.6" fill="none" stroke="#333" stroke-width="0.85"/>
<text x="78.55" y="208.7" font-size="5.5" text-anchor="middle" fill="#151515">ns</text>
<path d="M77.95 217.9H82.85" fill="none" stroke="#333" stroke-width="0.85"/>
<path d="M76.4 215.8H78.1M76.8 215.05L77.7 216.55M77.7 215.05L76.8 216.55M78.5 215.8H80.2M78.9 215.05L79.8 216.55M79.8 215.05L78.9 216.55M80.6 215.8H82.3M81 215.05L81.9 216.55M81.9 215.05L81 216.55M82.7 215.8H84.4M83.1 215.05L84 216.55M84 215.05L83.1 216.55" stroke="#2a2a2a" stroke-width="0.55" fill="none"/>
<path d="M92.15 213.6V211.2H99.55V218.4" fill="none" stroke="#333" stroke-width="0.85"/>
<path d="M92.9 209.1H94.6M93.3 208.35L94.2 209.85M94.2 208.35L93.3 209.85M95 209.1H96.7M95.4 208.35L96.3 209.85M96.3 208.35L95.4 209.85M97.1 209.1H98.8M97.5 208.35L98.4 209.85M98.4 208.35L97.5 209.85" stroke="#2a2a2a" stroke-width="0.55" fill="none"/>
<path d="M95.25 235H100.15" fill="none" stroke="#333" stroke-width="0.85"/>
<path d="M95.8 232.9H97.5M96.2 232.15L97.1 233.65M97.1 232.15L96.2 233.65M97.9 232.9H99.6M98.3 232.15L99.2 233.65M99.2 232.15L98.3 233.65" stroke="#2a2a2a" stroke-width="0.55" fill="none"/>
<path d="M109.55 253.6V251.6H116.95V257.9" fill="none" stroke="#333" stroke-width="0.85"/>
<path d="M110.3 249.5H112M110.7 248.75L111.6 250.25M111.6 248.75L110.7 250.25M112.4 249.5H114.1M112.8 248.75L113.7 250.25M113.7 248.75L112.8 250.25M114.5 249.5H116.2M114.9 248.75L115.8 250.25M115.8 248.75L114.9 250.25" stroke="#2a2a2a" stroke-width="0.55" fill="none"/>
<path d="M112.65 264.4H117.55" fill="none" stroke="#333" stroke-width="0.85"/>
<path d="M112.15 262.3H113.85M112.55 261.55L113.45 263.05M113.45 261.55L112.55 263.05M114.25 262.3H115.95M114.65 261.55L115.55 263.05M115.55 261.55L114.65 263.05M116.35 262.3H118.05M116.75 261.55L117.65 263.05M117.65 261.55L116.75 263.05" stroke="#2a2a2a" stroke-width="0.55" fill="none"/>
<text transform="translate(42.2 289.2) rotate(-45)" font-size="6.2" text-anchor="end" fill="#151515">Mac2A</text>
<text transform="translate(45.1 297.4) rotate(-45)" font-size="6.2" text-anchor="end" fill="#151515">CD47<tspan font-size="3.7199999999999998" dy="-2.4">-/-</tspan></text>
<text transform="translate(62.1 289.5) rotate(-45)" font-size="6.2" text-anchor="end" fill="#151515">HuT-78</text>
<text transform="translate(79.7 289.5) rotate(-45)" font-size="6.2" text-anchor="end" fill="#151515">Myla</text>
<text transform="translate(97 289.5) rotate(-45)" font-size="6.2" text-anchor="end" fill="#151515">Mac2A</text>
<text transform="translate(114.4 289.5) rotate(-45)" font-size="6.2" text-anchor="end" fill="#151515">K-299</text>
<rect x="33.8" y="312.5" width="8.3" height="4.6" fill="#b3122e"/>
<text x="45.1" y="316.71" font-size="5.3" text-anchor="start" font-weight="normal" fill="#151515" >WT mIgG1k</text>
<rect x="83" y="312.5" width="8.3" height="4.6" fill="#24427e"/>
<text x="94.3" y="316.71" font-size="5.3" text-anchor="start" font-weight="normal" fill="#151515" >WT B6H12</text>
<rect x="128.8" y="312.5" width="8.3" height="4.6" fill="#62a83a"/>
<text x="140.1" y="316.71" font-size="5.3" text-anchor="start" font-weight="normal" fill="#151515" >KO mIgG1k</text>
<rect x="177.5" y="312.5" width="8.3" height="4.6" fill="#4e1e66"/>
<text x="188.8" y="316.71" font-size="5.3" text-anchor="start" font-weight="normal" fill="#151515" >KO B6H12</text>
<text x="195.5" y="187.8" font-size="8.6" text-anchor="middle" font-weight="normal" fill="#151515" >Mac-1 WT and</text>
<text x="195.5" y="197.8" font-size="8.6" text-anchor="middle" font-weight="normal" fill="#151515" >KO mBMDM</text>
<path d="M149.4 202.3V279.8H240.5" fill="none" stroke="#1a1a1a" stroke-width="1"/>
<path d="M146.6 279.8H149.4" stroke="#1a1a1a" stroke-width="0.9"/>
<text x="143.9" y="282.07" font-size="6.3" text-anchor="end" font-weight="normal" fill="#151515" >0</text>
<path d="M146.6 261H149.4" stroke="#1a1a1a" stroke-width="0.9"/>
<text x="143.9" y="263.27" font-size="6.3" text-anchor="end" font-weight="normal" fill="#151515" >20</text>
<path d="M146.6 242.2H149.4" stroke="#1a1a1a" stroke-width="0.9"/>
<text x="143.9" y="244.47" font-size="6.3" text-anchor="end" font-weight="normal" fill="#151515" >40</text>
<path d="M146.6 223.4H149.4" stroke="#1a1a1a" stroke-width="0.9"/>
<text x="143.9" y="225.67" font-size="6.3" text-anchor="end" font-weight="normal" fill="#151515" >60</text>
<path d="M146.6 204.6H149.4" stroke="#1a1a1a" stroke-width="0.9"/>
<text x="143.9" y="206.87" font-size="6.3" text-anchor="end" font-weight="normal" fill="#151515" >80</text>
<path d="M158.9 279.8V282.2" stroke="#1a1a1a" stroke-width="0.8"/>
<path d="M177.3 279.8V282.2" stroke="#1a1a1a" stroke-width="0.8"/>
<path d="M195.7 279.8V282.2" stroke="#1a1a1a" stroke-width="0.8"/>
<path d="M214.1 279.8V282.2" stroke="#1a1a1a" stroke-width="0.8"/>
<path d="M232.5 279.8V282.2" stroke="#1a1a1a" stroke-width="0.8"/>
<rect x="151.8" y="259.4" width="3.1" height="20.4" fill="#b3122e"/>
<path d="M153.35 259.4V258.46M152.05 258.46H154.65" stroke="#222" stroke-width="0.8" fill="none"/>
<rect x="155.5" y="256.11" width="3.1" height="23.69" fill="#24427e"/>
<path d="M157.05 256.11V254.7M155.75 254.7H158.35" stroke="#222" stroke-width="0.8" fill="none"/>
<rect x="159.2" y="257.43" width="3.1" height="22.37" fill="#62a83a"/>
<path d="M160.75 257.43V256.49M159.45 256.49H162.05" stroke="#222" stroke-width="0.8" fill="none"/>
<rect x="162.9" y="254.89" width="3.1" height="24.91" fill="#4e1e66"/>
<path d="M164.45 254.89V252.54M163.15 252.54H165.75" stroke="#222" stroke-width="0.8" fill="none"/>
<rect x="170.2" y="268.52" width="3.1" height="11.28" fill="#b3122e"/>
<path d="M171.75 268.52V267.77M170.45 267.77H173.05" stroke="#222" stroke-width="0.8" fill="none"/>
<rect x="173.9" y="245.68" width="3.1" height="34.12" fill="#24427e"/>
<path d="M175.45 245.68V243.8M174.15 243.8H176.75" stroke="#222" stroke-width="0.8" fill="none"/>
<rect x="177.6" y="267.67" width="3.1" height="12.13" fill="#62a83a"/>
<path d="M179.15 267.67V266.26M177.85 266.26H180.45" stroke="#222" stroke-width="0.8" fill="none"/>
<rect x="181.3" y="242.39" width="3.1" height="37.41" fill="#4e1e66"/>
<path d="M182.85 242.39V240.51M181.55 240.51H184.15" stroke="#222" stroke-width="0.8" fill="none"/>
<rect x="188.6" y="274.91" width="3.1" height="4.89" fill="#b3122e"/>
<path d="M190.15 274.91V274.16M188.85 274.16H191.45" stroke="#222" stroke-width="0.8" fill="none"/>
<rect x="192.3" y="258.37" width="3.1" height="21.43" fill="#24427e"/>
<path d="M193.85 258.37V254.61M192.55 254.61H195.15" stroke="#222" stroke-width="0.8" fill="none"/>
<rect x="196" y="274.54" width="3.1" height="5.26" fill="#62a83a"/>
<path d="M197.55 274.54V273.78M196.25 273.78H198.85" stroke="#222" stroke-width="0.8" fill="none"/>
<rect x="199.7" y="254.89" width="3.1" height="24.91" fill="#4e1e66"/>
<path d="M201.25 254.89V252.07M199.95 252.07H202.55" stroke="#222" stroke-width="0.8" fill="none"/>
<rect x="207" y="268.52" width="3.1" height="11.28" fill="#b3122e"/>
<path d="M208.55 268.52V268.05M207.25 268.05H209.85" stroke="#222" stroke-width="0.8" fill="none"/>
<rect x="210.7" y="252.63" width="3.1" height="27.17" fill="#24427e"/>
<path d="M212.25 252.63V251.88M210.95 251.88H213.55" stroke="#222" stroke-width="0.8" fill="none"/>
<rect x="214.4" y="268.99" width="3.1" height="10.81" fill="#62a83a"/>
<path d="M215.95 268.99V267.58M214.65 267.58H217.25" stroke="#222" stroke-width="0.8" fill="none"/>
<rect x="218.1" y="242.39" width="3.1" height="37.41" fill="#4e1e66"/>
<path d="M219.65 242.39V239.57M218.35 239.57H220.95" stroke="#222" stroke-width="0.8" fill="none"/>
<rect x="225.4" y="272" width="3.1" height="7.8" fill="#b3122e"/>
<path d="M226.95 272V271.06M225.65 271.06H228.25" stroke="#222" stroke-width="0.8" fill="none"/>
<rect x="229.1" y="238.44" width="3.1" height="41.36" fill="#24427e"/>
<path d="M230.65 238.44V237.03M229.35 237.03H231.95" stroke="#222" stroke-width="0.8" fill="none"/>
<rect x="232.8" y="271.43" width="3.1" height="8.37" fill="#62a83a"/>
<path d="M234.35 271.43V270.49M233.05 270.49H235.65" stroke="#222" stroke-width="0.8" fill="none"/>
<rect x="236.5" y="242.39" width="3.1" height="37.41" fill="#4e1e66"/>
<path d="M238.05 242.39V240.98M236.75 240.98H239.35" stroke="#222" stroke-width="0.8" fill="none"/>
<path d="M157.05 235.4V231.1H164.45V243.6" fill="none" stroke="#333" stroke-width="0.85"/>
<text x="160.75" y="230.1" font-size="5.5" text-anchor="middle" fill="#151515">ns</text>
<path d="M160.15 249.3H165.05" fill="none" stroke="#333" stroke-width="0.85"/>
<text x="162.6" y="248.3" font-size="5.5" text-anchor="middle" fill="#151515">ns</text>
<path d="M175.45 229.7V226.2H182.85V233.2" fill="none" stroke="#333" stroke-width="0.85"/>
<text x="179.15" y="225.2" font-size="5.5" text-anchor="middle" fill="#151515">ns</text>
<path d="M178.55 237.2H183.45" fill="none" stroke="#333" stroke-width="0.85"/>
<path d="M178.05 235.1H179.75M178.45 234.35L179.35 235.85M179.35 234.35L178.45 235.85M180.15 235.1H181.85M180.55 234.35L181.45 235.85M181.45 234.35L180.55 235.85M182.25 235.1H183.95M182.65 234.35L183.55 235.85M183.55 234.35L182.65 235.85" stroke="#2a2a2a" stroke-width="0.55" fill="none"/>
<path d="M193.85 240.1V236.6H201.25V243.6" fill="none" stroke="#333" stroke-width="0.85"/>
<text x="197.55" y="235.6" font-size="5.5" text-anchor="middle" fill="#151515">ns</text>
<path d="M196.95 247H201.85" fill="none" stroke="#333" stroke-width="0.85"/>
<path d="M195.4 244.9H197.1M195.8 244.15L196.7 245.65M196.7 244.15L195.8 245.65M197.5 244.9H199.2M197.9 244.15L198.8 245.65M198.8 244.15L197.9 245.65M199.6 244.9H201.3M200 244.15L200.9 245.65M200.9 244.15L200 245.65M201.7 244.9H203.4M202.1 244.15L203 245.65M203 244.15L202.1 245.65" stroke="#2a2a2a" stroke-width="0.55" fill="none"/>
<path d="M212.25 228.8V225H219.65V232.3" fill="none" stroke="#333" stroke-width="0.85"/>
<path d="M215.1 222.9H216.8M215.5 222.15L216.4 223.65M216.4 222.15L215.5 223.65" stroke="#2a2a2a" stroke-width="0.55" fill="none"/>
<path d="M215.35 235.4H220.25" fill="none" stroke="#333" stroke-width="0.85"/>
<path d="M213.8 233.3H215.5M214.2 232.55L215.1 234.05M215.1 232.55L214.2 234.05M215.9 233.3H217.6M216.3 232.55L217.2 234.05M217.2 232.55L216.3 234.05M218 233.3H219.7M218.4 232.55L219.3 234.05M219.3 232.55L218.4 234.05M220.1 233.3H221.8M220.5 232.55L221.4 234.05M221.4 232.55L220.5 234.05" stroke="#2a2a2a" stroke-width="0.55" fill="none"/>
<path d="M230.65 229.7V226.8H238.05V233" fill="none" stroke="#333" stroke-width="0.85"/>
<text x="234.35" y="225.8" font-size="5.5" text-anchor="middle" fill="#151515">ns</text>
<path d="M233.75 236.1H238.65" fill="none" stroke="#333" stroke-width="0.85"/>
<path d="M232.2 234H233.9M232.6 233.25L233.5 234.75M233.5 233.25L232.6 234.75M234.3 234H236M234.7 233.25L235.6 234.75M235.6 233.25L234.7 234.75M236.4 234H238.1M236.8 233.25L237.7 234.75M237.7 233.25L236.8 234.75M238.5 234H240.2M238.9 233.25L239.8 234.75M239.8 233.25L238.9 234.75" stroke="#2a2a2a" stroke-width="0.55" fill="none"/>
<text transform="translate(159.5 289) rotate(-45)" font-size="6.2" text-anchor="end" fill="#151515">Mac2A</text>
<text transform="translate(162.4 297.2) rotate(-45)" font-size="6.2" text-anchor="end" fill="#151515">CD47<tspan font-size="3.7199999999999998" dy="-2.4">-/-</tspan></text>
<text transform="translate(180.3 289.3) rotate(-45)" font-size="6.2" text-anchor="end" fill="#151515">HuT-78</text>
<text transform="translate(198.7 289.3) rotate(-45)" font-size="6.2" text-anchor="end" fill="#151515">Myla</text>
<text transform="translate(217.1 289.3) rotate(-45)" font-size="6.2" text-anchor="end" fill="#151515">Mac2A</text>
<text transform="translate(235.5 289.3) rotate(-45)" font-size="6.2" text-anchor="end" fill="#151515">K-299</text>
<text x="310.5" y="187.8" font-size="8.6" text-anchor="middle" font-weight="normal" fill="#151515" >Mac-1 WT and</text>
<text x="310.5" y="198.8" font-size="8.6" text-anchor="middle" font-weight="normal" fill="#151515" >KO mBMDM</text>
<path d="M268.5 204.62V279.8H352.8" fill="none" stroke="#1a1a1a" stroke-width="1"/>
<path d="M265.7 279.8H268.5" stroke="#1a1a1a" stroke-width="0.9"/>
<text x="263" y="282.07" font-size="6.3" text-anchor="end" font-weight="normal" fill="#151515" >0</text>
<path d="M265.7 261.58H268.5" stroke="#1a1a1a" stroke-width="0.9"/>
<text x="263" y="263.85" font-size="6.3" text-anchor="end" font-weight="normal" fill="#151515" >20</text>
<path d="M265.7 243.36H268.5" stroke="#1a1a1a" stroke-width="0.9"/>
<text x="263" y="245.63" font-size="6.3" text-anchor="end" font-weight="normal" fill="#151515" >40</text>
<path d="M265.7 225.14H268.5" stroke="#1a1a1a" stroke-width="0.9"/>
<text x="263" y="227.41" font-size="6.3" text-anchor="end" font-weight="normal" fill="#151515" >60</text>
<path d="M265.7 206.92H268.5" stroke="#1a1a1a" stroke-width="0.9"/>
<text x="263" y="209.19" font-size="6.3" text-anchor="end" font-weight="normal" fill="#151515" >80</text>
<path d="M282.2 279.8V282.2" stroke="#1a1a1a" stroke-width="0.8"/>
<path d="M310.2 279.8V282.2" stroke="#1a1a1a" stroke-width="0.8"/>
<path d="M338.2 279.8V282.2" stroke="#1a1a1a" stroke-width="0.8"/>
<rect x="270.45" y="268.14" width="3" height="11.66" fill="#b3122e"/>
<path d="M271.95 268.14V266.32M270.69 266.32H273.21" stroke="#222" stroke-width="0.8" fill="none"/>
<rect x="274.55" y="267.23" width="3" height="12.57" fill="#24427e"/>
<path d="M276.05 267.23V265.41M274.79 265.41H277.31" stroke="#222" stroke-width="0.8" fill="none"/>
<rect x="278.65" y="267.68" width="3" height="12.12" fill="#e0901e"/>
<path d="M280.15 267.68V266.32M278.89 266.32H281.41" stroke="#222" stroke-width="0.8" fill="none"/>
<rect x="282.75" y="268.41" width="3" height="11.39" fill="#62a83a"/>
<path d="M284.25 268.41V267.5M282.99 267.5H285.51" stroke="#222" stroke-width="0.8" fill="none"/>
<rect x="286.85" y="265.22" width="3" height="14.58" fill="#4e1e66"/>
<path d="M288.35 265.22V264.31M287.09 264.31H289.61" stroke="#222" stroke-width="0.8" fill="none"/>
<rect x="290.95" y="265.95" width="3" height="13.85" fill="#2f6a4a"/>
<path d="M292.45 265.95V265.04M291.19 265.04H293.71" stroke="#222" stroke-width="0.8" fill="none"/>
<rect x="298.45" y="271.05" width="3" height="8.75" fill="#b3122e"/>
<path d="M299.95 271.05V270.14M298.69 270.14H301.21" stroke="#222" stroke-width="0.8" fill="none"/>
<rect x="302.55" y="250.01" width="3" height="29.79" fill="#24427e"/>
<path d="M304.05 250.01V249.1M302.79 249.1H305.31" stroke="#222" stroke-width="0.8" fill="none"/>
<rect x="306.65" y="263.68" width="3" height="16.12" fill="#e0901e"/>
<path d="M308.15 263.68V262.76M306.89 262.76H309.41" stroke="#222" stroke-width="0.8" fill="none"/>
<rect x="310.75" y="268.14" width="3" height="11.66" fill="#62a83a"/>
<path d="M312.25 268.14V266.77M310.99 266.77H313.51" stroke="#222" stroke-width="0.8" fill="none"/>
<rect x="314.85" y="245.73" width="3" height="34.07" fill="#4e1e66"/>
<path d="M316.35 245.73V243.45M315.09 243.45H317.61" stroke="#222" stroke-width="0.8" fill="none"/>
<rect x="318.95" y="258.85" width="3" height="20.95" fill="#2f6a4a"/>
<path d="M320.45 258.85V257.03M319.19 257.03H321.71" stroke="#222" stroke-width="0.8" fill="none"/>
<rect x="326.45" y="268.14" width="3" height="11.66" fill="#b3122e"/>
<path d="M327.95 268.14V267.23M326.69 267.23H329.21" stroke="#222" stroke-width="0.8" fill="none"/>
<rect x="330.55" y="242.45" width="3" height="37.35" fill="#24427e"/>
<path d="M332.05 242.45V241.99M330.79 241.99H333.31" stroke="#222" stroke-width="0.8" fill="none"/>
<rect x="334.65" y="255.11" width="3" height="24.69" fill="#e0901e"/>
<path d="M336.15 255.11V253.29M334.89 253.29H337.41" stroke="#222" stroke-width="0.8" fill="none"/>
<rect x="338.75" y="268.14" width="3" height="11.66" fill="#62a83a"/>
<path d="M340.25 268.14V267.23M338.99 267.23H341.51" stroke="#222" stroke-width="0.8" fill="none"/>
<rect x="342.85" y="239.9" width="3" height="39.9" fill="#4e1e66"/>
<path d="M344.35 239.9V238.99M343.09 238.99H345.61" stroke="#222" stroke-width="0.8" fill="none"/>
<rect x="346.95" y="259.12" width="3" height="20.68" fill="#2f6a4a"/>
<path d="M348.45 259.12V258.21M347.19 258.21H349.71" stroke="#222" stroke-width="0.8" fill="none"/>
<path d="M280.15 258V255.7H292.45V262.6" fill="none" stroke="#333" stroke-width="0.85"/>
<text x="286.3" y="254.7" font-size="5.5" text-anchor="middle" fill="#151515">ns</text>
<path d="M308.15 241.8V239.1H320.45V245.7" fill="none" stroke="#333" stroke-width="0.85"/>
<text x="314.3" y="238.1" font-size="5.5" text-anchor="middle" fill="#151515">ns</text>
<path d="M336.15 238.5V235.7H348.45V242.6" fill="none" stroke="#333" stroke-width="0.85"/>
<text x="342.3" y="234.7" font-size="5.5" text-anchor="middle" fill="#151515">ns</text>
<text x="282.2" y="292.5" font-size="6.5" text-anchor="middle" font-weight="normal" fill="#151515" >Mac2A</text>
<text x="282.2" y="299.8" font-size="6.5" text-anchor="middle" fill="#151515">CD47<tspan font-size="3.9" dy="-2.4">-/-</tspan></text>
<text x="310.2" y="292.5" font-size="6.5" text-anchor="middle" font-weight="normal" fill="#151515" >Myla</text>
<text x="338.2" y="292.5" font-size="6.5" text-anchor="middle" font-weight="normal" fill="#151515" >Mac2A</text>
<rect x="267.4" y="303.5" width="8.3" height="4.6" fill="#b3122e"/>
<text x="278.7" y="307.71" font-size="5.3" text-anchor="start" font-weight="normal" fill="#151515" >WT mIgG1k</text>
<rect x="316.7" y="303.5" width="8.3" height="4.6" fill="#24427e"/>
<text x="328" y="307.71" font-size="5.3" text-anchor="start" font-weight="normal" fill="#151515" >WT B6H12</text>
<rect x="267.4" y="313.6" width="8.3" height="4.6" fill="#62a83a"/>
<text x="278.7" y="317.81" font-size="5.3" text-anchor="start" font-weight="normal" fill="#151515" >KO mIgG1k</text>
<rect x="316.7" y="313.6" width="8.3" height="4.6" fill="#4e1e66"/>
<text x="328" y="317.81" font-size="5.3" text-anchor="start" font-weight="normal" fill="#151515" >KO B6H12</text>
<rect x="267.4" y="323.1" width="8.3" height="4.6" fill="#e0901e"/>
<text x="278.7" y="327.31" font-size="5.3" text-anchor="start" font-weight="normal" fill="#151515" >WT B6H12 F(ab')2</text>
<rect x="267.4" y="333.1" width="8.3" height="4.6" fill="#2f6a4a"/>
<text x="278.7" y="337.31" font-size="5.3" text-anchor="start" font-weight="normal" fill="#151515" >KO B6H12 F(ab')2</text>
<text transform="translate(368.2 242.2) rotate(-90)" font-size="8.2" text-anchor="middle" fill="#151515" textLength="69" lengthAdjust="spacingAndGlyphs">% CFSE + macrophages</text>
<path d="M384.4 204.6V279.9H432.6" fill="none" stroke="#1a1a1a" stroke-width="1"/>
<path d="M381.6 279.9H384.4" stroke="#1a1a1a" stroke-width="0.9"/>
<text x="378.9" y="282.17" font-size="6.3" text-anchor="end" font-weight="normal" fill="#151515" >0</text>
<path d="M381.6 265.3H384.4" stroke="#1a1a1a" stroke-width="0.9"/>
<text x="378.9" y="267.57" font-size="6.3" text-anchor="end" font-weight="normal" fill="#151515" >10</text>
<path d="M381.6 250.7H384.4" stroke="#1a1a1a" stroke-width="0.9"/>
<text x="378.9" y="252.97" font-size="6.3" text-anchor="end" font-weight="normal" fill="#151515" >20</text>
<path d="M381.6 236.1H384.4" stroke="#1a1a1a" stroke-width="0.9"/>
<text x="378.9" y="238.37" font-size="6.3" text-anchor="end" font-weight="normal" fill="#151515" >30</text>
<path d="M381.6 221.5H384.4" stroke="#1a1a1a" stroke-width="0.9"/>
<text x="378.9" y="223.77" font-size="6.3" text-anchor="end" font-weight="normal" fill="#151515" >40</text>
<path d="M381.6 206.9H384.4" stroke="#1a1a1a" stroke-width="0.9"/>
<text x="378.9" y="209.17" font-size="6.3" text-anchor="end" font-weight="normal" fill="#151515" >50</text>
<path d="M396 279.9V282.3" stroke="#1a1a1a" stroke-width="0.8"/>
<path d="M420 279.9V282.3" stroke="#1a1a1a" stroke-width="0.8"/>
<rect x="385.62" y="261.8" width="3" height="18.1" fill="#b3122e"/>
<path d="M387.12 261.8V260.34M385.87 260.34H388.38" stroke="#222" stroke-width="0.8" fill="none"/>
<rect x="389.18" y="244.13" width="3" height="35.77" fill="#5eaae0"/>
<path d="M390.68 244.13V242.67M389.42 242.67H391.94" stroke="#222" stroke-width="0.8" fill="none"/>
<rect x="392.73" y="257.56" width="3" height="22.34" fill="#4e1e66"/>
<path d="M394.23 257.56V256.1M392.97 256.1H395.49" stroke="#222" stroke-width="0.8" fill="none"/>
<rect x="396.27" y="252.16" width="3" height="27.74" fill="#b9c78f"/>
<path d="M397.77 252.16V250.7M396.51 250.7H399.03" stroke="#222" stroke-width="0.8" fill="none"/>
<rect x="399.82" y="222.38" width="3" height="57.52" fill="#2f6a4a"/>
<path d="M401.32 222.38V218M400.06 218H402.58" stroke="#222" stroke-width="0.8" fill="none"/>
<rect x="403.38" y="237.41" width="3" height="42.49" fill="#e0901e"/>
<path d="M404.88 237.41V235.95M403.62 235.95H406.13" stroke="#222" stroke-width="0.8" fill="none"/>
<rect x="409.62" y="269.68" width="3" height="10.22" fill="#b3122e"/>
<path d="M411.12 269.68V268.95M409.87 268.95H412.38" stroke="#222" stroke-width="0.8" fill="none"/>
<rect x="413.18" y="259.46" width="3" height="20.44" fill="#5eaae0"/>
<path d="M414.68 259.46V258M413.42 258H415.94" stroke="#222" stroke-width="0.8" fill="none"/>
<rect x="416.73" y="265.3" width="3" height="14.6" fill="#4e1e66"/>
<path d="M418.23 265.3V263.84M416.97 263.84H419.49" stroke="#222" stroke-width="0.8" fill="none"/>
<rect x="420.27" y="265.74" width="3" height="14.16" fill="#b9c78f"/>
<path d="M421.77 265.74V265.01M420.51 265.01H423.03" stroke="#222" stroke-width="0.8" fill="none"/>
<rect x="423.82" y="250.99" width="3" height="28.91" fill="#2f6a4a"/>
<path d="M425.32 250.99V249.53M424.06 249.53H426.58" stroke="#222" stroke-width="0.8" fill="none"/>
<rect x="427.38" y="258" width="3" height="21.9" fill="#e0901e"/>
<path d="M428.88 258V257.27M427.62 257.27H430.13" stroke="#222" stroke-width="0.8" fill="none"/>
<path d="M387.12 236.7V234.1H397.77V236.7" fill="none" stroke="#333" stroke-width="0.85"/>
<path d="M390.55 232H392.25M390.95 231.25L391.85 232.75M391.85 231.25L390.95 232.75M392.65 232H394.35M393.05 231.25L393.95 232.75M393.95 231.25L393.05 232.75" stroke="#2a2a2a" stroke-width="0.55" fill="none"/>
<path d="M390.68 215.3V212.7H401.32V215.3" fill="none" stroke="#333" stroke-width="0.85"/>
<path d="M394.1 210.6H395.8M394.5 209.85L395.4 211.35M395.4 209.85L394.5 211.35M396.2 210.6H397.9M396.6 209.85L397.5 211.35M397.5 209.85L396.6 211.35" stroke="#2a2a2a" stroke-width="0.55" fill="none"/>
<path d="M397.77 208.4V205.8H404.88V208.4" fill="none" stroke="#333" stroke-width="0.85"/>
<path d="M399.42 203.7H401.12M399.82 202.95L400.72 204.45M400.72 202.95L399.82 204.45M401.52 203.7H403.23M401.93 202.95L402.82 204.45M402.82 202.95L401.93 204.45" stroke="#2a2a2a" stroke-width="0.55" fill="none"/>
<path d="M411.12 256.2V253.6H418.23V256.2" fill="none" stroke="#333" stroke-width="0.85"/>
<path d="M413.82 251.5H415.53M414.23 250.75L415.12 252.25M415.12 250.75L414.23 252.25" stroke="#2a2a2a" stroke-width="0.55" fill="none"/>
<path d="M411.12 248.8V246.2H421.77V248.8" fill="none" stroke="#333" stroke-width="0.85"/>
<path d="M413.5 244.1H415.2M413.9 243.35L414.8 244.85M414.8 243.35L413.9 244.85M415.6 244.1H417.3M416 243.35L416.9 244.85M416.9 243.35L416 244.85M417.7 244.1H419.4M418.1 243.35L419 244.85M419 243.35L418.1 244.85" stroke="#2a2a2a" stroke-width="0.55" fill="none"/>
<path d="M414.68 241.1V238.5H425.32V241.1" fill="none" stroke="#333" stroke-width="0.85"/>
<path d="M419.15 236.4H420.85M419.55 235.65L420.45 237.15M420.45 235.65L419.55 237.15" stroke="#2a2a2a" stroke-width="0.55" fill="none"/>
<path d="M421.77 235V232.4H428.88V235" fill="none" stroke="#333" stroke-width="0.85"/>
<path d="M424.47 230.3H426.18M424.88 229.55L425.77 231.05M425.77 229.55L424.88 231.05" stroke="#2a2a2a" stroke-width="0.55" fill="none"/>
<text x="396" y="291.6" font-size="6.5" text-anchor="middle" font-weight="normal" fill="#151515" >Myla</text>
<text x="420" y="291.6" font-size="6.5" text-anchor="middle" font-weight="normal" fill="#151515" >HH</text>
<text transform="translate(444.6 243.2) rotate(-90)" font-size="8.2" text-anchor="middle" fill="#151515" textLength="40.5" lengthAdjust="spacingAndGlyphs">% PI pos cells</text>
<path d="M462.5 207.35V280H513.3" fill="none" stroke="#1a1a1a" stroke-width="1"/>
<path d="M459.7 280H462.5" stroke="#1a1a1a" stroke-width="0.9"/>
<text x="457" y="282.27" font-size="6.3" text-anchor="end" font-weight="normal" fill="#151515" >0</text>
<path d="M459.7 265.93H462.5" stroke="#1a1a1a" stroke-width="0.9"/>
<text x="457" y="268.2" font-size="6.3" text-anchor="end" font-weight="normal" fill="#151515" >10</text>
<path d="M459.7 251.86H462.5" stroke="#1a1a1a" stroke-width="0.9"/>
<text x="457" y="254.13" font-size="6.3" text-anchor="end" font-weight="normal" fill="#151515" >20</text>
<path d="M459.7 237.79H462.5" stroke="#1a1a1a" stroke-width="0.9"/>
<text x="457" y="240.06" font-size="6.3" text-anchor="end" font-weight="normal" fill="#151515" >30</text>
<path d="M459.7 223.72H462.5" stroke="#1a1a1a" stroke-width="0.9"/>
<text x="457" y="225.99" font-size="6.3" text-anchor="end" font-weight="normal" fill="#151515" >40</text>
<path d="M459.7 209.65H462.5" stroke="#1a1a1a" stroke-width="0.9"/>
<text x="457" y="211.92" font-size="6.3" text-anchor="end" font-weight="normal" fill="#151515" >50</text>
<path d="M474.4 280V282.4" stroke="#1a1a1a" stroke-width="0.8"/>
<path d="M499.2 280V282.4" stroke="#1a1a1a" stroke-width="0.8"/>
<rect x="463.6" y="267.06" width="3.1" height="12.94" fill="#b3122e"/>
<path d="M465.15 267.06V264.95M463.85 264.95H466.45" stroke="#222" stroke-width="0.8" fill="none"/>
<rect x="467.3" y="246.23" width="3.1" height="33.77" fill="#5eaae0"/>
<path d="M468.85 246.23V244.12M467.55 244.12H470.15" stroke="#222" stroke-width="0.8" fill="none"/>
<rect x="471" y="262.13" width="3.1" height="17.87" fill="#4e1e66"/>
<path d="M472.55 262.13V260.72M471.25 260.72H473.85" stroke="#222" stroke-width="0.8" fill="none"/>
<rect x="474.7" y="251.86" width="3.1" height="28.14" fill="#b9c78f"/>
<path d="M476.25 251.86V248.34M474.95 248.34H477.55" stroke="#222" stroke-width="0.8" fill="none"/>
<rect x="478.4" y="231.74" width="3.1" height="48.26" fill="#2f6a4a"/>
<path d="M479.95 231.74V228.93M478.65 228.93H481.25" stroke="#222" stroke-width="0.8" fill="none"/>
<rect x="482.1" y="245.25" width="3.1" height="34.75" fill="#e0901e"/>
<path d="M483.65 245.25V243.84M482.35 243.84H484.95" stroke="#222" stroke-width="0.8" fill="none"/>
<rect x="488.4" y="270.29" width="3.1" height="9.71" fill="#b3122e"/>
<path d="M489.95 270.29V267.48M488.65 267.48H491.25" stroke="#222" stroke-width="0.8" fill="none"/>
<rect x="492.1" y="246.23" width="3.1" height="33.77" fill="#5eaae0"/>
<path d="M493.65 246.23V239.2M492.35 239.2H494.95" stroke="#222" stroke-width="0.8" fill="none"/>
<rect x="495.8" y="267.48" width="3.1" height="12.52" fill="#4e1e66"/>
<path d="M497.35 267.48V262.55M496.05 262.55H498.65" stroke="#222" stroke-width="0.8" fill="none"/>
<rect x="499.5" y="249.75" width="3.1" height="30.25" fill="#b9c78f"/>
<path d="M501.05 249.75V241.31M499.75 241.31H502.35" stroke="#222" stroke-width="0.8" fill="none"/>
<rect x="503.2" y="226.96" width="3.1" height="53.04" fill="#2f6a4a"/>
<path d="M504.75 226.96V217.11M503.45 217.11H506.05" stroke="#222" stroke-width="0.8" fill="none"/>
<rect x="506.9" y="242.15" width="3.1" height="37.85" fill="#e0901e"/>
<path d="M508.45 242.15V235.12M507.15 235.12H509.75" stroke="#222" stroke-width="0.8" fill="none"/>
<path d="M465.15 239.3V236.7H476.25V239.3" fill="none" stroke="#333" stroke-width="0.85"/>
<path d="M468.8 234.6H470.5M469.2 233.85L470.1 235.35M470.1 233.85L469.2 235.35M470.9 234.6H472.6M471.3 233.85L472.2 235.35M472.2 233.85L471.3 235.35" stroke="#2a2a2a" stroke-width="0.55" fill="none"/>
<path d="M468.85 225V222.4H479.95V225" fill="none" stroke="#333" stroke-width="0.85"/>
<path d="M472.5 220.3H474.2M472.9 219.55L473.8 221.05M473.8 219.55L472.9 221.05M474.6 220.3H476.3M475 219.55L475.9 221.05M475.9 219.55L475 221.05" stroke="#2a2a2a" stroke-width="0.55" fill="none"/>
<path d="M476.25 217.2V214.6H483.65V217.2" fill="none" stroke="#333" stroke-width="0.85"/>
<path d="M479.1 212.5H480.8M479.5 211.75L480.4 213.25M480.4 211.75L479.5 213.25" stroke="#2a2a2a" stroke-width="0.55" fill="none"/>
<path d="M489.95 235.9V233.3H501.05V235.9" fill="none" stroke="#333" stroke-width="0.85"/>
<path d="M494.65 231.2H496.35M495.05 230.45L495.95 231.95M495.95 230.45L495.05 231.95" stroke="#2a2a2a" stroke-width="0.55" fill="none"/>
<path d="M493.65 214.2V211.6H504.75V214.2" fill="none" stroke="#333" stroke-width="0.85"/>
<path d="M498.35 209.5H500.05M498.75 208.75L499.65 210.25M499.65 208.75L498.75 210.25" stroke="#2a2a2a" stroke-width="0.55" fill="none"/>
<path d="M501.05 210V207.4H508.45V210" fill="none" stroke="#333" stroke-width="0.85"/>
<text x="504.75" y="206.4" font-size="5.5" text-anchor="middle" fill="#151515">ns</text>
<text x="474.4" y="291.6" font-size="6.5" text-anchor="middle" font-weight="normal" fill="#151515" >Myla</text>
<text x="499.2" y="291.6" font-size="6.5" text-anchor="middle" font-weight="normal" fill="#151515" >HH</text>
<rect x="380" y="303.7" width="8.3" height="4.6" fill="#b3122e"/>
<text x="391.3" y="307.91" font-size="5.3" text-anchor="start" font-weight="normal" fill="#151515" >hIgG1</text>
<rect x="434" y="303.7" width="8.3" height="4.6" fill="#5eaae0"/>
<text x="445.3" y="307.91" font-size="5.3" text-anchor="start" font-weight="normal" fill="#151515" >B6H12-hIgG1</text>
<rect x="486.8" y="303.7" width="8.3" height="4.6" fill="#b9c78f"/>
<text x="498.1" y="307.91" font-size="5.3" text-anchor="start" font-weight="normal" fill="#151515" >Moga</text>
<rect x="380" y="313.5" width="8.3" height="4.6" fill="#4e1e66"/>
<text x="391.3" y="317.71" font-size="5.3" text-anchor="start" font-weight="normal" fill="#151515" >B6H12 F(ab')2</text>
<rect x="434" y="313.5" width="8.3" height="4.6" fill="#e0901e"/>
<text x="445.3" y="317.71" font-size="5.3" text-anchor="start" font-weight="normal" fill="#151515" >B6H12 F(ab')2 + Moga</text>
<rect x="380" y="323.1" width="8.3" height="4.6" fill="#2f6a4a"/>
<text x="391.3" y="327.31" font-size="5.3" text-anchor="start" font-weight="normal" fill="#151515" >B6H12-hIgG1+ Moga</text>
<text transform="translate(13.9 417.5) rotate(-90)" font-size="8.2" text-anchor="middle" fill="#151515" textLength="70" lengthAdjust="spacingAndGlyphs">% CFSE + macrophages</text>
<path d="M31.7 384.5V451.5H114.1" fill="none" stroke="#1a1a1a" stroke-width="1"/>
<path d="M28.9 451.5H31.7" stroke="#1a1a1a" stroke-width="0.9"/>
<text x="26.2" y="453.77" font-size="6.3" text-anchor="end" font-weight="normal" fill="#151515" >0</text>
<path d="M28.9 438.56H31.7" stroke="#1a1a1a" stroke-width="0.9"/>
<text x="26.2" y="440.83" font-size="6.3" text-anchor="end" font-weight="normal" fill="#151515" >10</text>
<path d="M28.9 425.62H31.7" stroke="#1a1a1a" stroke-width="0.9"/>
<text x="26.2" y="427.89" font-size="6.3" text-anchor="end" font-weight="normal" fill="#151515" >20</text>
<path d="M28.9 412.68H31.7" stroke="#1a1a1a" stroke-width="0.9"/>
<text x="26.2" y="414.95" font-size="6.3" text-anchor="end" font-weight="normal" fill="#151515" >30</text>
<path d="M28.9 399.74H31.7" stroke="#1a1a1a" stroke-width="0.9"/>
<text x="26.2" y="402.01" font-size="6.3" text-anchor="end" font-weight="normal" fill="#151515" >40</text>
<path d="M28.9 386.8H31.7" stroke="#1a1a1a" stroke-width="0.9"/>
<text x="26.2" y="389.07" font-size="6.3" text-anchor="end" font-weight="normal" fill="#151515" >50</text>
<path d="M39 451.5V453.9" stroke="#1a1a1a" stroke-width="0.8"/>
<path d="M48.8 451.5V453.9" stroke="#1a1a1a" stroke-width="0.8"/>
<path d="M58.6 451.5V453.9" stroke="#1a1a1a" stroke-width="0.8"/>
<path d="M68.4 451.5V453.9" stroke="#1a1a1a" stroke-width="0.8"/>
<path d="M78.2 451.5V453.9" stroke="#1a1a1a" stroke-width="0.8"/>
<path d="M88 451.5V453.9" stroke="#1a1a1a" stroke-width="0.8"/>
<path d="M97.8 451.5V453.9" stroke="#1a1a1a" stroke-width="0.8"/>
<path d="M107.6 451.5V453.9" stroke="#1a1a1a" stroke-width="0.8"/>
<rect x="35.7" y="437.78" width="6.6" height="13.72" fill="#62a83a"/>
<path d="M39 437.78V437.14M36.8 437.14H41.2" stroke="#222" stroke-width="0.8" fill="none"/>
<rect x="45.5" y="424.97" width="6.6" height="26.53" fill="#c7c6cb"/>
<path d="M48.8 424.97V422.38M46.6 422.38H51" stroke="#222" stroke-width="0.8" fill="none"/>
<rect x="55.3" y="435.97" width="6.6" height="15.53" fill="#4a2468"/>
<path d="M58.6 435.97V434.68M56.4 434.68H60.8" stroke="#222" stroke-width="0.8" fill="none"/>
<rect x="65.1" y="437.78" width="6.6" height="13.72" fill="#244a84"/>
<path d="M68.4 437.78V436.49M66.2 436.49H70.6" stroke="#222" stroke-width="0.8" fill="none"/>
<rect x="74.9" y="428.47" width="6.6" height="23.03" fill="#e0901e"/>
<path d="M78.2 428.47V427.17M76 427.17H80.4" stroke="#222" stroke-width="0.8" fill="none"/>
<rect x="84.7" y="438.3" width="6.6" height="13.2" fill="#cc0a78"/>
<path d="M88 438.3V437.65M85.8 437.65H90.2" stroke="#222" stroke-width="0.8" fill="none"/>
<rect x="94.5" y="401.29" width="6.6" height="50.21" fill="#8c82c0"/>
<path d="M97.8 401.29V397.41M95.6 397.41H100" stroke="#222" stroke-width="0.8" fill="none"/>
<rect x="104.3" y="435.58" width="6.6" height="15.92" fill="#64aae2"/>
<path d="M107.6 435.58V434.94M105.4 434.94H109.8" stroke="#222" stroke-width="0.8" fill="none"/>
<path d="M48.8 395.5V391.4H97.8V392.5" fill="none" stroke="#333" stroke-width="0.85"/>
<path d="M70.35 389.3H72.05M70.75 388.55L71.65 390.05M71.65 388.55L70.75 390.05M72.45 389.3H74.15M72.85 388.55L73.75 390.05M73.75 388.55L72.85 390.05M74.55 389.3H76.25M74.95 388.55L75.85 390.05M75.85 388.55L74.95 390.05" stroke="#2a2a2a" stroke-width="0.55" fill="none"/>
<path d="M39 411.3V408.2H58.6V410" fill="none" stroke="#333" stroke-width="0.85"/>
<text x="48.8" y="407.2" font-size="5.5" text-anchor="middle" fill="#151515">ns</text>
<path d="M39 422.4V415.6H48.8V418" fill="none" stroke="#333" stroke-width="0.85"/>
<path d="M42 413.5H43.7M42.4 412.75L43.3 414.25M43.3 412.75L42.4 414.25M44.1 413.5H45.8M44.5 412.75L45.4 414.25M45.4 412.75L44.5 414.25" stroke="#2a2a2a" stroke-width="0.55" fill="none"/>
<path d="M68.4 415V409.6H88V411" fill="none" stroke="#333" stroke-width="0.85"/>
<text x="78.2" y="408.6" font-size="5.5" text-anchor="middle" fill="#151515">ns</text>
<path d="M68.4 427.5V420.4H78.2V421.7" fill="none" stroke="#333" stroke-width="0.85"/>
<path d="M71.4 418.3H73.1M71.8 417.55L72.7 419.05M72.7 417.55L71.8 419.05M73.5 418.3H75.2M73.9 417.55L74.8 419.05M74.8 417.55L73.9 419.05" stroke="#2a2a2a" stroke-width="0.55" fill="none"/>
<text x="73.3" y="367.7" font-size="8.3" text-anchor="middle" font-weight="normal" fill="#151515" >Myla</text>
<path d="M135.1 382.09V451.5H217" fill="none" stroke="#1a1a1a" stroke-width="1"/>
<path d="M132.3 451.5H135.1" stroke="#1a1a1a" stroke-width="0.9"/>
<text x="129.6" y="453.77" font-size="6.3" text-anchor="end" font-weight="normal" fill="#151515" >0</text>
<path d="M132.3 429.13H135.1" stroke="#1a1a1a" stroke-width="0.9"/>
<text x="129.6" y="431.4" font-size="6.3" text-anchor="end" font-weight="normal" fill="#151515" >10</text>
<path d="M132.3 406.76H135.1" stroke="#1a1a1a" stroke-width="0.9"/>
<text x="129.6" y="409.03" font-size="6.3" text-anchor="end" font-weight="normal" fill="#151515" >20</text>
<path d="M132.3 384.39H135.1" stroke="#1a1a1a" stroke-width="0.9"/>
<text x="129.6" y="386.66" font-size="6.3" text-anchor="end" font-weight="normal" fill="#151515" >30</text>
<path d="M142.05 451.5V453.9" stroke="#1a1a1a" stroke-width="0.8"/>
<path d="M151.95 451.5V453.9" stroke="#1a1a1a" stroke-width="0.8"/>
<path d="M161.85 451.5V453.9" stroke="#1a1a1a" stroke-width="0.8"/>
<path d="M171.75 451.5V453.9" stroke="#1a1a1a" stroke-width="0.8"/>
<path d="M181.65 451.5V453.9" stroke="#1a1a1a" stroke-width="0.8"/>
<path d="M191.55 451.5V453.9" stroke="#1a1a1a" stroke-width="0.8"/>
<path d="M201.45 451.5V453.9" stroke="#1a1a1a" stroke-width="0.8"/>
<path d="M211.35 451.5V453.9" stroke="#1a1a1a" stroke-width="0.8"/>
<rect x="139" y="431.81" width="6.1" height="19.69" fill="#62a83a"/>
<path d="M142.05 431.81V428.46M139.85 428.46H144.25" stroke="#222" stroke-width="0.8" fill="none"/>
<rect x="148.9" y="425.33" width="6.1" height="26.17" fill="#c7c6cb"/>
<path d="M151.95 425.33V422.64M149.75 422.64H154.15" stroke="#222" stroke-width="0.8" fill="none"/>
<rect x="158.8" y="431.59" width="6.1" height="19.91" fill="#4a2468"/>
<path d="M161.85 431.59V428.24M159.65 428.24H164.05" stroke="#222" stroke-width="0.8" fill="none"/>
<rect x="168.7" y="429.8" width="6.1" height="21.7" fill="#244a84"/>
<path d="M171.75 429.8V425.33M169.55 425.33H173.95" stroke="#222" stroke-width="0.8" fill="none"/>
<rect x="178.6" y="427.12" width="6.1" height="24.38" fill="#e0901e"/>
<path d="M181.65 427.12V418.17M179.45 418.17H183.85" stroke="#222" stroke-width="0.8" fill="none"/>
<rect x="188.5" y="428.46" width="6.1" height="23.04" fill="#cc0a78"/>
<path d="M191.55 428.46V425.1M189.35 425.1H193.75" stroke="#222" stroke-width="0.8" fill="none"/>
<rect x="198.4" y="403.4" width="6.1" height="48.1" fill="#8c82c0"/>
<path d="M201.45 403.4V394.46M199.25 394.46H203.65" stroke="#222" stroke-width="0.8" fill="none"/>
<rect x="208.3" y="423.98" width="6.1" height="27.52" fill="#64aae2"/>
<path d="M211.35 423.98V418.39M209.15 418.39H213.55" stroke="#222" stroke-width="0.8" fill="none"/>
<path d="M191.55 386.3V380.5H211.35V381.7" fill="none" stroke="#333" stroke-width="0.85"/>
<text x="201.45" y="379.5" font-size="5.5" text-anchor="middle" fill="#151515">ns</text>
<path d="M151.95 394V389.7H201.45V391" fill="none" stroke="#333" stroke-width="0.85"/>
<text x="176.7" y="388.7" font-size="5.5" text-anchor="middle" fill="#151515">0.06</text>
<path d="M171.75 405.5V399.4H191.55V401" fill="none" stroke="#333" stroke-width="0.85"/>
<text x="181.65" y="398.4" font-size="5.5" text-anchor="middle" fill="#151515">ns</text>
<path d="M171.75 417.8V412.2H181.65V413.2" fill="none" stroke="#333" stroke-width="0.85"/>
<text x="176.7" y="411.2" font-size="5.5" text-anchor="middle" fill="#151515">ns</text>
<path d="M142.05 412.5V409.7H161.85V411" fill="none" stroke="#333" stroke-width="0.85"/>
<text x="151.95" y="408.7" font-size="5.5" text-anchor="middle" fill="#151515">ns</text>
<path d="M142.05 423.2V417.1H151.95V418.6" fill="none" stroke="#333" stroke-width="0.85"/>
<path d="M146.15 415H147.85M146.55 414.25L147.45 415.75M147.45 414.25L146.55 415.75" stroke="#2a2a2a" stroke-width="0.55" fill="none"/>
<text x="176" y="367.7" font-size="8.3" text-anchor="middle" font-weight="normal" fill="#151515" >HuT-78</text>
<path d="M239.2 381.1V451.5H324.5" fill="none" stroke="#1a1a1a" stroke-width="1"/>
<path d="M236.4 451.5H239.2" stroke="#1a1a1a" stroke-width="0.9"/>
<text x="233.7" y="453.77" font-size="6.3" text-anchor="end" font-weight="normal" fill="#151515" >0</text>
<path d="M236.4 428.8H239.2" stroke="#1a1a1a" stroke-width="0.9"/>
<text x="233.7" y="431.07" font-size="6.3" text-anchor="end" font-weight="normal" fill="#151515" >20</text>
<path d="M236.4 406.1H239.2" stroke="#1a1a1a" stroke-width="0.9"/>
<text x="233.7" y="408.37" font-size="6.3" text-anchor="end" font-weight="normal" fill="#151515" >40</text>
<path d="M236.4 383.4H239.2" stroke="#1a1a1a" stroke-width="0.9"/>
<text x="233.7" y="385.67" font-size="6.3" text-anchor="end" font-weight="normal" fill="#151515" >60</text>
<path d="M245.2 451.5V453.9" stroke="#1a1a1a" stroke-width="0.8"/>
<path d="M255.47 451.5V453.9" stroke="#1a1a1a" stroke-width="0.8"/>
<path d="M265.74 451.5V453.9" stroke="#1a1a1a" stroke-width="0.8"/>
<path d="M276.01 451.5V453.9" stroke="#1a1a1a" stroke-width="0.8"/>
<path d="M286.28 451.5V453.9" stroke="#1a1a1a" stroke-width="0.8"/>
<path d="M296.55 451.5V453.9" stroke="#1a1a1a" stroke-width="0.8"/>
<path d="M306.82 451.5V453.9" stroke="#1a1a1a" stroke-width="0.8"/>
<path d="M317.09 451.5V453.9" stroke="#1a1a1a" stroke-width="0.8"/>
<rect x="241.9" y="442.19" width="6.6" height="9.31" fill="#62a83a"/>
<path d="M245.2 442.19V441.06M243 441.06H247.4" stroke="#222" stroke-width="0.8" fill="none"/>
<rect x="252.17" y="429.25" width="6.6" height="22.25" fill="#c7c6cb"/>
<path d="M255.47 429.25V425.85M253.27 425.85H257.67" stroke="#222" stroke-width="0.8" fill="none"/>
<rect x="262.44" y="439.92" width="6.6" height="11.58" fill="#4a2468"/>
<path d="M265.74 439.92V438.79M263.54 438.79H267.94" stroke="#222" stroke-width="0.8" fill="none"/>
<rect x="272.71" y="438.33" width="6.6" height="13.17" fill="#244a84"/>
<path d="M276.01 438.33V437.2M273.81 437.2H278.21" stroke="#222" stroke-width="0.8" fill="none"/>
<rect x="282.98" y="429.82" width="6.6" height="21.68" fill="#e0901e"/>
<path d="M286.28 429.82V427.55M284.08 427.55H288.48" stroke="#222" stroke-width="0.8" fill="none"/>
<rect x="293.25" y="439.13" width="6.6" height="12.37" fill="#cc0a78"/>
<path d="M296.55 439.13V436.86M294.35 436.86H298.75" stroke="#222" stroke-width="0.8" fill="none"/>
<rect x="303.52" y="396" width="6.6" height="55.5" fill="#8c82c0"/>
<path d="M306.82 396V392.59M304.62 392.59H309.02" stroke="#222" stroke-width="0.8" fill="none"/>
<rect x="313.79" y="436.97" width="6.6" height="14.53" fill="#64aae2"/>
<path d="M317.09 436.97V435.84M314.89 435.84H319.29" stroke="#222" stroke-width="0.8" fill="none"/>
<path d="M255.47 391.1V386.5H306.82V387.7" fill="none" stroke="#333" stroke-width="0.85"/>
<path d="M278.19 384.4H279.89M278.59 383.65L279.49 385.15M279.49 383.65L278.59 385.15M280.29 384.4H282M280.69 383.65L281.59 385.15M281.59 383.65L280.69 385.15M282.39 384.4H284.1M282.8 383.65L283.69 385.15M283.69 383.65L282.8 385.15" stroke="#2a2a2a" stroke-width="0.55" fill="none"/>
<path d="M245.2 413V410H265.74V411.5" fill="none" stroke="#333" stroke-width="0.85"/>
<text x="255.47" y="409" font-size="5.5" text-anchor="middle" fill="#151515">ns</text>
<path d="M245.2 425.8V419.2H255.47V420.8" fill="none" stroke="#333" stroke-width="0.85"/>
<path d="M248.44 417.1H250.14M248.84 416.35L249.74 417.85M249.74 416.35L248.84 417.85M250.54 417.1H252.24M250.94 416.35L251.84 417.85M251.84 416.35L250.94 417.85" stroke="#2a2a2a" stroke-width="0.55" fill="none"/>
<path d="M276.01 415.4V410H296.55V411.5" fill="none" stroke="#333" stroke-width="0.85"/>
<text x="286.28" y="409" font-size="5.5" text-anchor="middle" fill="#151515">ns</text>
<path d="M276.01 427.7V421.2H286.28V422.3" fill="none" stroke="#333" stroke-width="0.85"/>
<path d="M279.24 419.1H280.94M279.64 418.35L280.54 419.85M280.54 418.35L279.64 419.85M281.34 419.1H283.05M281.75 418.35L282.64 419.85M282.64 418.35L281.75 419.85" stroke="#2a2a2a" stroke-width="0.55" fill="none"/>
<text x="281.2" y="367.7" font-size="8.3" text-anchor="middle" font-weight="normal" fill="#151515" >MAC2A</text>
<path d="M343.5 377.8V451.5H427" fill="none" stroke="#1a1a1a" stroke-width="1"/>
<path d="M340.7 451.5H343.5" stroke="#1a1a1a" stroke-width="0.9"/>
<text x="338" y="453.77" font-size="6.3" text-anchor="end" font-weight="normal" fill="#151515" >0</text>
<path d="M340.7 427.7H343.5" stroke="#1a1a1a" stroke-width="0.9"/>
<text x="338" y="429.97" font-size="6.3" text-anchor="end" font-weight="normal" fill="#151515" >10</text>
<path d="M340.7 403.9H343.5" stroke="#1a1a1a" stroke-width="0.9"/>
<text x="338" y="406.17" font-size="6.3" text-anchor="end" font-weight="normal" fill="#151515" >20</text>
<path d="M340.7 380.1H343.5" stroke="#1a1a1a" stroke-width="0.9"/>
<text x="338" y="382.37" font-size="6.3" text-anchor="end" font-weight="normal" fill="#151515" >30</text>
<path d="M351.25 451.5V453.9" stroke="#1a1a1a" stroke-width="0.8"/>
<path d="M361.25 451.5V453.9" stroke="#1a1a1a" stroke-width="0.8"/>
<path d="M371.25 451.5V453.9" stroke="#1a1a1a" stroke-width="0.8"/>
<path d="M381.25 451.5V453.9" stroke="#1a1a1a" stroke-width="0.8"/>
<path d="M391.25 451.5V453.9" stroke="#1a1a1a" stroke-width="0.8"/>
<path d="M401.25 451.5V453.9" stroke="#1a1a1a" stroke-width="0.8"/>
<path d="M411.25 451.5V453.9" stroke="#1a1a1a" stroke-width="0.8"/>
<path d="M421.25 451.5V453.9" stroke="#1a1a1a" stroke-width="0.8"/>
<rect x="348" y="431.75" width="6.5" height="19.75" fill="#62a83a"/>
<path d="M351.25 431.75V429.37M349.05 429.37H353.45" stroke="#222" stroke-width="0.8" fill="none"/>
<rect x="358" y="413.9" width="6.5" height="37.6" fill="#c7c6cb"/>
<path d="M361.25 413.9V410.8M359.05 410.8H363.45" stroke="#222" stroke-width="0.8" fill="none"/>
<rect x="368" y="429.84" width="6.5" height="21.66" fill="#4a2468"/>
<path d="M371.25 429.84V426.27M369.05 426.27H373.45" stroke="#222" stroke-width="0.8" fill="none"/>
<rect x="378" y="427.7" width="6.5" height="23.8" fill="#244a84"/>
<path d="M381.25 427.7V425.32M379.05 425.32H383.45" stroke="#222" stroke-width="0.8" fill="none"/>
<rect x="388" y="427.22" width="6.5" height="24.28" fill="#e0901e"/>
<path d="M391.25 427.22V422.46M389.05 422.46H393.45" stroke="#222" stroke-width="0.8" fill="none"/>
<rect x="398" y="425.8" width="6.5" height="25.7" fill="#cc0a78"/>
<path d="M401.25 425.8V424.61M399.05 424.61H403.45" stroke="#222" stroke-width="0.8" fill="none"/>
<rect x="408" y="398.19" width="6.5" height="53.31" fill="#8c82c0"/>
<path d="M411.25 398.19V393.43M409.05 393.43H413.45" stroke="#222" stroke-width="0.8" fill="none"/>
<rect x="418" y="417.94" width="6.5" height="33.56" fill="#64aae2"/>
<path d="M421.25 417.94V414.37M419.05 414.37H423.45" stroke="#222" stroke-width="0.8" fill="none"/>
<path d="M401.25 384.3V378.5H421.25V379.7" fill="none" stroke="#333" stroke-width="0.85"/>
<text x="411.25" y="377.5" font-size="5.5" text-anchor="middle" fill="#151515">ns</text>
<path d="M361.25 392V388.2H411.25V389.2" fill="none" stroke="#333" stroke-width="0.85"/>
<path d="M385.4 386.1H387.1M385.8 385.35L386.7 386.85M386.7 385.35L385.8 386.85" stroke="#2a2a2a" stroke-width="0.55" fill="none"/>
<path d="M351.25 402.5V400H371.25V401.2" fill="none" stroke="#333" stroke-width="0.85"/>
<text x="361.25" y="399" font-size="5.5" text-anchor="middle" fill="#151515">ns</text>
<path d="M351.25 410.5V406.2H361.25V407.4" fill="none" stroke="#333" stroke-width="0.85"/>
<path d="M354.35 404.1H356.05M354.75 403.35L355.65 404.85M355.65 403.35L354.75 404.85M356.45 404.1H358.15M356.85 403.35L357.75 404.85M357.75 403.35L356.85 404.85" stroke="#2a2a2a" stroke-width="0.55" fill="none"/>
<path d="M381.25 410.5V406.6H401.25V407.7" fill="none" stroke="#333" stroke-width="0.85"/>
<text x="391.25" y="405.6" font-size="5.5" text-anchor="middle" fill="#151515">ns</text>
<path d="M381.25 422V417.4H391.25V418.4" fill="none" stroke="#333" stroke-width="0.85"/>
<text x="386.25" y="416.4" font-size="5.5" text-anchor="middle" fill="#151515">ns</text>
<text x="386.2" y="367.7" font-size="8.3" text-anchor="middle" font-weight="normal" fill="#151515" >K-299</text>
<rect x="436.9" y="382.1" width="8.3" height="4.6" fill="#62a83a"/>
<text x="448.2" y="386.31" font-size="5.3" text-anchor="start" font-weight="normal" fill="#151515" >mIgG1k</text>
<rect x="436.9" y="390.75" width="8.3" height="4.6" fill="#c7c6cb"/>
<text x="448.2" y="394.96" font-size="5.3" text-anchor="start" font-weight="normal" fill="#151515" >B6H12</text>
<rect x="436.9" y="399.4" width="8.3" height="4.6" fill="#4a2468"/>
<text x="448.2" y="403.61" font-size="5.3" text-anchor="start" font-weight="normal" fill="#151515" >B6H12 F(ab')2</text>
<rect x="436.9" y="408.05" width="8.3" height="4.6" fill="#244a84"/>
<text x="448.2" y="412.26" font-size="5.3" text-anchor="start" font-weight="normal" fill="#151515" >mIgG2ak</text>
<rect x="436.9" y="416.7" width="8.3" height="4.6" fill="#e0901e"/>
<text x="448.2" y="420.91" font-size="5.3" text-anchor="start" font-weight="normal" fill="#151515" >W6/32</text>
<rect x="436.9" y="425.35" width="8.3" height="4.6" fill="#cc0a78"/>
<text x="448.2" y="429.56" font-size="5.3" text-anchor="start" font-weight="normal" fill="#151515" >W6/32 F(ab')2</text>
<rect x="436.9" y="434" width="8.3" height="4.6" fill="#8c82c0"/>
<text x="448.2" y="438.21" font-size="5.3" text-anchor="start" font-weight="normal" fill="#151515" >B6H12+W6/32</text>
<rect x="436.9" y="442.65" width="8.3" height="4.6" fill="#64aae2"/>
<text x="448.2" y="446.86" font-size="5.3" text-anchor="start" font-weight="normal" fill="#151515" >B6H12 F(ab')2 +</text>
<text x="447.9" y="452.7" font-size="5.3" text-anchor="start" font-weight="normal" fill="#151515" >W6/32 F(ab')2</text>
<rect x="0.5" y="0.5" width="519" height="461" fill="none" stroke="#000" stroke-width="1.3"/>
</svg>
</body></html>
